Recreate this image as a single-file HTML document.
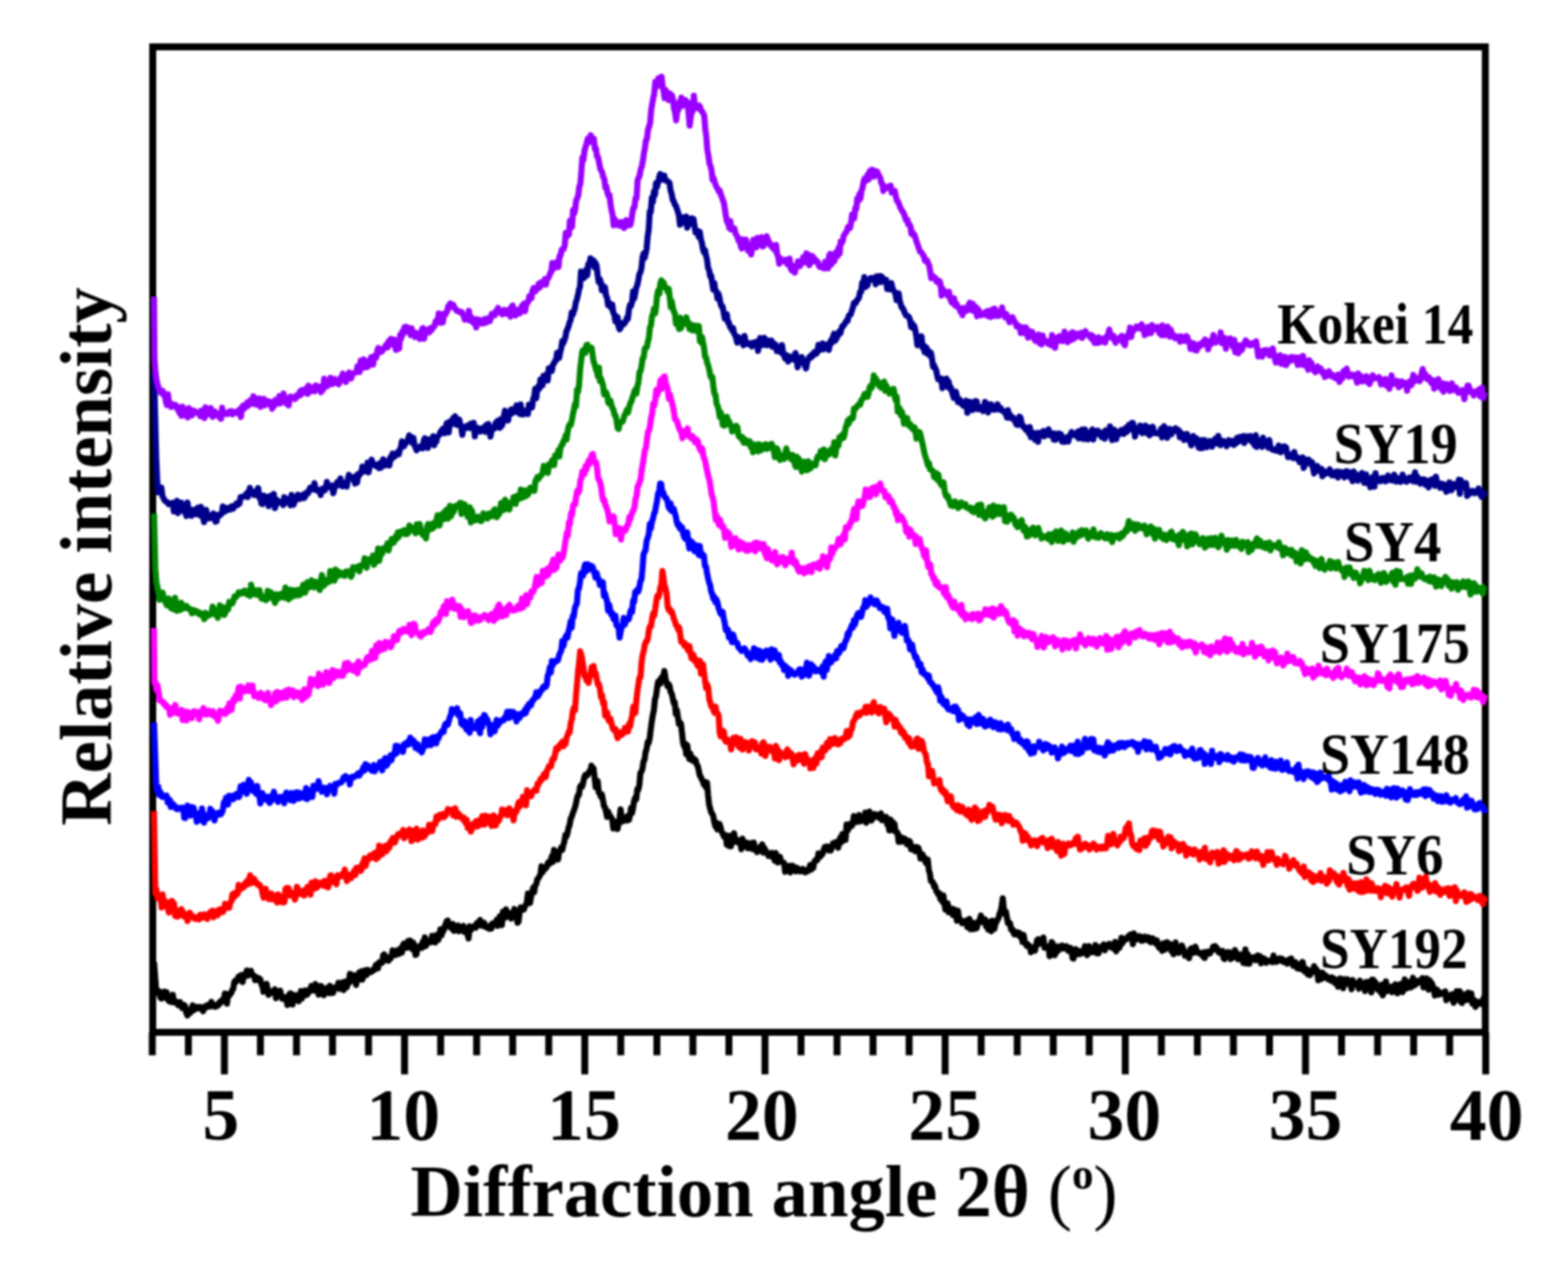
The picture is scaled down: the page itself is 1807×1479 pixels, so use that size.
<!DOCTYPE html>
<html><head><meta charset="utf-8"><style>
html,body{margin:0;padding:0;background:#fff;width:1807px;height:1479px;overflow:hidden}
svg{display:block;filter:blur(0.8px)}
.t{font-family:"Liberation Serif",serif;font-weight:bold;font-size:85px;fill:#000}
.l{font-family:"Liberation Serif",serif;font-weight:bold;font-size:68px;fill:#000}
</style></head><body>
<svg width="1807" height="1479" viewBox="0 0 1807 1479">
<rect x="176" y="54" width="1535.7" height="1136" fill="none" stroke="#000" stroke-width="8"/>
<line x1="175.5" y1="1190" x2="175.5" y2="1216.5" stroke="#000" stroke-width="8"/>
<line x1="217.1" y1="1190" x2="217.1" y2="1216.5" stroke="#000" stroke-width="8"/>
<line x1="258.6" y1="1190" x2="258.6" y2="1238.5" stroke="#000" stroke-width="8"/>
<line x1="300.1" y1="1190" x2="300.1" y2="1216.5" stroke="#000" stroke-width="8"/>
<line x1="341.7" y1="1190" x2="341.7" y2="1216.5" stroke="#000" stroke-width="8"/>
<line x1="383.2" y1="1190" x2="383.2" y2="1216.5" stroke="#000" stroke-width="8"/>
<line x1="424.7" y1="1190" x2="424.7" y2="1216.5" stroke="#000" stroke-width="8"/>
<line x1="466.2" y1="1190" x2="466.2" y2="1238.5" stroke="#000" stroke-width="8"/>
<line x1="507.8" y1="1190" x2="507.8" y2="1216.5" stroke="#000" stroke-width="8"/>
<line x1="549.3" y1="1190" x2="549.3" y2="1216.5" stroke="#000" stroke-width="8"/>
<line x1="590.8" y1="1190" x2="590.8" y2="1216.5" stroke="#000" stroke-width="8"/>
<line x1="632.4" y1="1190" x2="632.4" y2="1216.5" stroke="#000" stroke-width="8"/>
<line x1="673.9" y1="1190" x2="673.9" y2="1238.5" stroke="#000" stroke-width="8"/>
<line x1="715.4" y1="1190" x2="715.4" y2="1216.5" stroke="#000" stroke-width="8"/>
<line x1="757.0" y1="1190" x2="757.0" y2="1216.5" stroke="#000" stroke-width="8"/>
<line x1="798.5" y1="1190" x2="798.5" y2="1216.5" stroke="#000" stroke-width="8"/>
<line x1="840.0" y1="1190" x2="840.0" y2="1216.5" stroke="#000" stroke-width="8"/>
<line x1="881.6" y1="1190" x2="881.6" y2="1238.5" stroke="#000" stroke-width="8"/>
<line x1="923.1" y1="1190" x2="923.1" y2="1216.5" stroke="#000" stroke-width="8"/>
<line x1="964.6" y1="1190" x2="964.6" y2="1216.5" stroke="#000" stroke-width="8"/>
<line x1="1006.1" y1="1190" x2="1006.1" y2="1216.5" stroke="#000" stroke-width="8"/>
<line x1="1047.7" y1="1190" x2="1047.7" y2="1216.5" stroke="#000" stroke-width="8"/>
<line x1="1089.2" y1="1190" x2="1089.2" y2="1238.5" stroke="#000" stroke-width="8"/>
<line x1="1130.7" y1="1190" x2="1130.7" y2="1216.5" stroke="#000" stroke-width="8"/>
<line x1="1172.3" y1="1190" x2="1172.3" y2="1216.5" stroke="#000" stroke-width="8"/>
<line x1="1213.8" y1="1190" x2="1213.8" y2="1216.5" stroke="#000" stroke-width="8"/>
<line x1="1255.3" y1="1190" x2="1255.3" y2="1216.5" stroke="#000" stroke-width="8"/>
<line x1="1296.8" y1="1190" x2="1296.8" y2="1238.5" stroke="#000" stroke-width="8"/>
<line x1="1338.4" y1="1190" x2="1338.4" y2="1216.5" stroke="#000" stroke-width="8"/>
<line x1="1379.9" y1="1190" x2="1379.9" y2="1216.5" stroke="#000" stroke-width="8"/>
<line x1="1421.4" y1="1190" x2="1421.4" y2="1216.5" stroke="#000" stroke-width="8"/>
<line x1="1463.0" y1="1190" x2="1463.0" y2="1216.5" stroke="#000" stroke-width="8"/>
<line x1="1504.5" y1="1190" x2="1504.5" y2="1238.5" stroke="#000" stroke-width="8"/>
<line x1="1546.0" y1="1190" x2="1546.0" y2="1216.5" stroke="#000" stroke-width="8"/>
<line x1="1587.6" y1="1190" x2="1587.6" y2="1216.5" stroke="#000" stroke-width="8"/>
<line x1="1629.1" y1="1190" x2="1629.1" y2="1216.5" stroke="#000" stroke-width="8"/>
<line x1="1670.6" y1="1190" x2="1670.6" y2="1216.5" stroke="#000" stroke-width="8"/>
<line x1="1712.2" y1="1190" x2="1712.2" y2="1238.5" stroke="#000" stroke-width="8"/>
<polyline fill="none" stroke="#000000" stroke-width="7.0" stroke-linejoin="round" points="177.5,1109 180.0,1142.0 181.2,1144.2 182.4,1142.1 183.6,1144.7 184.8,1150.0 186.0,1151.1 187.2,1143.7 188.4,1146.1 189.6,1143.2 190.8,1150.2 192.0,1143.6 193.2,1151.9 194.4,1153.7 195.6,1151.6 196.8,1155.0 198.0,1154.8 199.2,1146.8 200.4,1155.6 201.6,1153.9 202.8,1155.8 204.0,1155.2 205.2,1158.7 206.4,1157.5 207.6,1155.2 208.8,1159.3 210.0,1162.0 211.2,1158.9 212.4,1158.6 213.6,1160.7 214.8,1167.9 216.0,1170.6 217.2,1164.4 218.4,1168.5 219.6,1167.2 220.8,1163.0 222.0,1158.8 223.2,1164.5 224.4,1163.6 225.6,1162.2 226.8,1160.7 228.0,1162.3 229.2,1162.5 230.4,1160.8 231.6,1160.9 232.8,1162.0 234.0,1165.7 235.2,1162.5 236.4,1160.0 237.6,1159.7 238.8,1160.8 240.0,1158.2 241.2,1157.9 242.4,1160.2 243.6,1154.9 244.8,1159.5 246.0,1158.3 247.2,1160.5 248.4,1160.6 249.6,1159.7 250.8,1159.4 252.0,1156.3 253.2,1157.3 254.4,1154.1 255.6,1154.6 256.8,1151.9 258.0,1151.8 259.2,1145.2 260.4,1148.1 261.6,1157.1 262.8,1145.9 264.0,1148.0 265.2,1145.9 266.4,1144.8 267.6,1141.1 268.8,1140.1 270.0,1132.0 271.2,1130.5 272.4,1131.5 273.6,1129.0 274.8,1126.0 276.0,1125.2 277.2,1128.1 278.4,1123.8 279.6,1132.0 280.8,1125.4 282.0,1123.2 283.2,1123.2 284.4,1118.7 285.6,1124.7 286.8,1121.3 288.0,1119.5 289.2,1119.1 290.4,1123.9 291.6,1124.0 292.8,1124.6 294.0,1129.9 295.2,1127.3 296.4,1126.9 297.6,1129.6 298.8,1127.9 300.0,1129.0 301.2,1134.6 302.4,1136.5 303.6,1143.3 304.8,1139.9 306.0,1138.0 307.2,1134.0 308.4,1140.0 309.6,1146.8 310.8,1144.9 312.0,1143.6 313.2,1144.0 314.4,1142.4 315.6,1142.4 316.8,1140.4 318.0,1150.7 319.2,1147.9 320.4,1143.9 321.6,1147.5 322.8,1142.0 324.0,1146.6 325.2,1151.4 326.4,1151.2 327.6,1150.6 328.8,1149.6 330.0,1152.8 331.2,1158.5 332.4,1151.1 333.6,1145.7 334.8,1145.0 336.0,1145.9 337.2,1157.9 338.4,1150.9 339.6,1153.6 340.8,1147.2 342.0,1148.3 343.2,1151.3 344.4,1154.2 345.6,1147.9 346.8,1142.4 348.0,1151.1 349.2,1145.1 350.4,1147.7 351.6,1141.7 352.8,1145.6 354.0,1146.6 355.2,1144.3 356.4,1140.9 357.6,1142.7 358.8,1136.6 360.0,1138.1 361.2,1138.1 362.4,1141.8 363.6,1134.4 364.8,1142.1 366.0,1140.8 367.2,1146.5 368.4,1137.9 369.6,1136.5 370.8,1137.2 372.0,1142.5 373.2,1147.3 374.4,1141.4 375.6,1140.1 376.8,1138.9 378.0,1143.8 379.2,1144.8 380.4,1136.4 381.6,1139.0 382.8,1144.7 384.0,1144.5 385.2,1139.1 386.4,1138.0 387.6,1138.5 388.8,1138.4 390.0,1132.8 391.2,1139.9 392.4,1136.3 393.6,1137.6 394.8,1132.4 396.0,1141.4 397.2,1135.1 398.4,1131.4 399.6,1138.2 400.8,1132.5 402.0,1133.5 403.2,1122.8 404.4,1123.0 405.6,1130.7 406.8,1127.0 408.0,1128.2 409.2,1124.4 410.4,1135.4 411.6,1127.0 412.8,1129.7 414.0,1120.9 415.2,1125.8 416.4,1119.7 417.6,1129.3 418.8,1124.5 420.0,1118.8 421.2,1118.8 422.4,1124.0 423.6,1118.0 424.8,1119.5 426.0,1121.0 427.2,1120.4 428.4,1120.0 429.6,1119.3 430.8,1116.7 432.0,1117.4 433.2,1112.4 434.4,1113.0 435.6,1116.3 436.8,1109.4 438.0,1109.5 439.2,1108.8 440.4,1109.8 441.6,1101.0 442.8,1100.1 444.0,1106.9 445.2,1103.2 446.4,1107.0 447.6,1107.5 448.8,1104.8 450.0,1105.0 451.2,1102.2 452.4,1095.5 453.6,1101.2 454.8,1100.0 456.0,1100.8 457.2,1095.7 458.4,1096.3 459.6,1099.7 460.8,1093.6 462.0,1093.3 463.2,1098.1 464.4,1089.3 465.6,1087.7 466.8,1092.8 468.0,1091.9 469.2,1092.4 470.4,1084.9 471.6,1091.5 472.8,1084.2 474.0,1090.4 475.2,1094.1 476.4,1086.8 477.6,1091.4 478.8,1100.8 480.0,1100.2 481.2,1091.5 482.4,1092.8 483.6,1091.3 484.8,1089.6 486.0,1092.8 487.2,1085.6 488.4,1091.1 489.6,1080.5 490.8,1090.6 492.0,1087.5 493.2,1085.4 494.4,1086.3 495.6,1084.2 496.8,1086.1 498.0,1078.8 499.2,1082.4 500.4,1085.5 501.6,1086.4 502.8,1077.9 504.0,1077.6 505.2,1083.5 506.4,1077.1 507.6,1071.3 508.8,1078.4 510.0,1073.4 511.2,1072.9 512.4,1068.1 513.6,1065.3 514.8,1062.0 516.0,1061.2 517.2,1068.2 518.4,1065.6 519.6,1067.8 520.8,1070.6 522.0,1065.1 523.2,1073.1 524.4,1072.5 525.6,1069.7 526.8,1071.0 528.0,1066.9 529.2,1073.5 530.4,1068.8 531.6,1072.4 532.8,1068.7 534.0,1067.5 535.2,1074.1 536.4,1073.7 537.6,1075.4 538.8,1077.0 540.0,1081.9 541.2,1067.7 542.4,1072.4 543.6,1070.8 544.8,1070.2 546.0,1068.2 547.2,1067.1 548.4,1069.4 549.6,1064.1 550.8,1063.4 552.0,1064.9 553.2,1060.5 554.4,1066.8 555.6,1064.6 556.8,1067.3 558.0,1063.7 559.2,1068.4 560.4,1067.7 561.6,1069.4 562.8,1068.9 564.0,1070.7 565.2,1066.8 566.4,1070.4 567.6,1064.6 568.8,1066.4 570.0,1064.0 571.2,1063.7 572.4,1060.4 573.6,1067.3 574.8,1062.9 576.0,1056.4 577.2,1059.4 578.4,1066.4 579.6,1051.1 580.8,1055.5 582.0,1058.0 583.2,1048.2 584.4,1056.6 585.6,1054.4 586.8,1054.9 588.0,1052.7 589.2,1058.9 590.4,1052.3 591.6,1054.3 592.8,1047.9 594.0,1055.2 595.2,1054.9 596.4,1063.8 597.6,1062.6 598.8,1051.5 600.0,1046.0 601.2,1046.9 602.4,1046.2 603.6,1048.5 604.8,1045.0 606.0,1042.9 607.2,1040.1 608.4,1029.9 609.6,1034.8 610.8,1041.0 612.0,1033.5 613.2,1028.7 614.4,1023.2 615.6,1028.6 616.8,1020.5 618.0,1019.4 619.2,1013.7 620.4,1012.6 621.6,1010.3 622.8,1008.3 624.0,998.6 625.2,1005.8 626.4,1000.1 627.6,1002.2 628.8,1000.7 630.0,999.7 631.2,995.2 632.4,993.6 633.6,995.5 634.8,991.2 636.0,986.9 637.2,993.6 638.4,979.7 639.6,990.7 640.8,983.8 642.0,983.3 643.2,990.9 644.4,981.3 645.6,981.2 646.8,976.7 648.0,979.8 649.2,974.0 650.4,969.9 651.6,962.6 652.8,964.3 654.0,960.4 655.2,954.2 656.4,951.3 657.6,943.9 658.8,941.7 660.0,937.7 661.2,934.7 662.4,931.3 663.6,927.1 664.8,920.8 666.0,916.6 667.2,916.3 668.4,907.1 669.6,905.3 670.8,907.0 672.0,902.7 673.2,896.4 674.4,893.5 675.6,894.5 676.8,893.8 678.0,891.5 679.2,889.0 680.4,888.6 681.6,882.6 682.8,885.0 684.0,885.7 685.2,895.8 686.4,907.3 687.6,901.9 688.8,900.4 690.0,913.6 691.2,914.1 692.4,918.4 693.6,915.8 694.8,922.1 696.0,929.2 697.2,930.6 698.4,935.6 699.6,941.6 700.8,935.5 702.0,939.3 703.2,940.4 704.4,942.9 705.6,944.3 706.8,955.1 708.0,950.0 709.2,947.7 710.4,951.8 711.6,955.7 712.8,950.1 714.0,943.7 715.2,933.0 716.4,943.1 717.6,946.8 718.8,943.7 720.0,942.2 721.2,942.6 722.4,946.0 723.6,940.5 724.8,945.1 726.0,939.9 727.2,931.6 728.4,937.3 729.6,930.9 730.8,923.1 732.0,919.6 733.2,921.3 734.4,909.9 735.6,910.4 736.8,904.9 738.0,891.2 739.2,889.6 740.4,886.2 741.6,877.6 742.8,875.9 744.0,866.7 745.2,863.5 746.4,855.5 747.6,856.4 748.8,850.4 750.0,840.2 751.2,831.2 752.4,824.0 753.6,818.2 754.8,806.2 756.0,802.5 757.2,793.2 758.4,785.9 759.6,784.8 760.8,788.3 762.0,781.3 763.2,781.2 764.4,779.3 765.6,773.5 766.8,780.9 768.0,787.1 769.2,790.8 770.4,788.5 771.6,790.5 772.8,797.6 774.0,799.2 775.2,804.5 776.4,810.4 777.6,809.4 778.8,822.9 780.0,818.5 781.2,826.2 782.4,834.6 783.6,832.7 784.8,834.5 786.0,845.4 787.2,856.3 788.4,860.6 789.6,857.4 790.8,869.3 792.0,859.0 793.2,869.9 794.4,874.9 795.6,868.7 796.8,873.8 798.0,876.8 799.2,874.1 800.4,877.5 801.6,876.3 802.8,881.2 804.0,882.8 805.2,887.8 806.4,893.7 807.6,895.5 808.8,898.7 810.0,900.3 811.2,904.5 812.4,901.3 813.6,907.7 814.8,902.1 816.0,916.3 817.2,927.5 818.4,932.0 819.6,936.6 820.8,938.0 822.0,940.7 823.2,948.0 824.4,952.7 825.6,948.4 826.8,956.1 828.0,951.9 829.2,949.8 830.4,953.7 831.6,958.5 832.8,961.2 834.0,963.7 835.2,965.2 836.4,962.7 837.6,973.6 838.8,964.5 840.0,975.1 841.2,963.5 842.4,975.7 843.6,967.2 844.8,971.0 846.0,960.6 847.2,968.6 848.4,967.2 849.6,970.9 850.8,970.9 852.0,969.9 853.2,972.1 854.4,979.0 855.6,966.7 856.8,972.3 858.0,973.5 859.2,973.6 860.4,971.4 861.6,977.6 862.8,972.1 864.0,977.8 865.2,974.8 866.4,971.9 867.6,978.8 868.8,971.2 870.0,979.5 871.2,978.3 872.4,982.2 873.6,981.5 874.8,978.8 876.0,976.3 877.2,978.9 878.4,973.3 879.6,982.9 880.8,977.5 882.0,980.2 883.2,981.7 884.4,983.8 885.6,986.5 886.8,985.7 888.0,986.9 889.2,983.0 890.4,987.5 891.6,987.0 892.8,992.2 894.0,983.2 895.2,992.8 896.4,994.3 897.6,993.8 898.8,987.6 900.0,993.0 901.2,993.4 902.4,994.3 903.6,994.7 904.8,1005.0 906.0,1000.0 907.2,1002.4 908.4,1000.2 909.6,998.1 910.8,1005.7 912.0,1000.1 913.2,997.8 914.4,1002.6 915.6,999.4 916.8,1004.5 918.0,1003.8 919.2,1000.7 920.4,1002.4 921.6,1004.5 922.8,1004.4 924.0,1003.8 925.2,1001.6 926.4,1003.1 927.6,1005.5 928.8,1003.4 930.0,1004.8 931.2,1004.0 932.4,1001.2 933.6,997.2 934.8,1002.5 936.0,999.8 937.2,1000.4 938.4,993.6 939.6,991.7 940.8,992.2 942.0,991.4 943.2,983.7 944.4,987.7 945.6,987.3 946.8,984.4 948.0,984.4 949.2,979.7 950.4,976.5 951.6,979.2 952.8,975.8 954.0,978.5 955.2,980.4 956.4,976.0 957.6,980.4 958.8,976.0 960.0,972.0 961.2,974.9 962.4,972.4 963.6,970.4 964.8,970.5 966.0,977.2 967.2,970.0 968.4,965.3 969.6,971.1 970.8,961.6 972.0,962.6 973.2,961.2 974.4,968.3 975.6,950.5 976.8,957.7 978.0,955.0 979.2,949.9 980.4,952.3 981.6,952.3 982.8,949.9 984.0,940.7 985.2,946.7 986.4,942.8 987.6,947.5 988.8,944.8 990.0,939.5 991.2,946.9 992.4,945.7 993.6,945.3 994.8,946.0 996.0,944.3 997.2,936.7 998.4,948.5 999.6,941.5 1000.8,940.9 1002.0,935.5 1003.2,943.1 1004.4,945.8 1005.6,940.3 1006.8,942.8 1008.0,938.4 1009.2,939.5 1010.4,939.3 1011.6,940.0 1012.8,942.5 1014.0,941.6 1015.2,937.7 1016.4,945.5 1017.6,943.4 1018.8,945.1 1020.0,944.2 1021.2,941.6 1022.4,950.3 1023.6,950.0 1024.8,957.3 1026.0,944.8 1027.2,956.9 1028.4,947.1 1029.6,953.3 1030.8,949.5 1032.0,958.8 1033.2,958.9 1034.4,959.9 1035.6,970.4 1036.8,964.0 1038.0,970.2 1039.2,970.2 1040.4,966.1 1041.6,969.4 1042.8,966.9 1044.0,969.9 1045.2,973.3 1046.4,973.6 1047.6,969.4 1048.8,970.3 1050.0,979.0 1051.2,979.1 1052.4,979.1 1053.6,976.3 1054.8,981.4 1056.0,980.0 1057.2,976.6 1058.4,977.4 1059.6,981.7 1060.8,989.6 1062.0,984.5 1063.2,984.9 1064.4,990.4 1065.6,988.7 1066.8,994.5 1068.0,995.5 1069.2,991.0 1070.4,1003.0 1071.6,1006.9 1072.8,1015.7 1074.0,1016.3 1075.2,1017.0 1076.4,1021.8 1077.6,1021.2 1078.8,1026.6 1080.0,1028.6 1081.2,1031.1 1082.4,1029.6 1083.6,1036.3 1084.8,1036.4 1086.0,1039.5 1087.2,1032.2 1088.4,1042.3 1089.6,1048.5 1090.8,1043.9 1092.0,1041.3 1093.2,1051.6 1094.4,1047.8 1095.6,1047.1 1096.8,1050.7 1098.0,1054.7 1099.2,1048.0 1100.4,1053.9 1101.6,1055.7 1102.8,1061.4 1104.0,1049.8 1105.2,1058.0 1106.4,1060.6 1107.6,1060.8 1108.8,1064.3 1110.0,1062.6 1111.2,1063.3 1112.4,1064.1 1113.6,1061.2 1114.8,1068.8 1116.0,1066.3 1117.2,1059.2 1118.4,1071.1 1119.6,1070.5 1120.8,1071.1 1122.0,1063.9 1123.2,1070.8 1124.4,1067.2 1125.6,1070.1 1126.8,1063.0 1128.0,1064.2 1129.2,1059.8 1130.4,1055.3 1131.6,1061.0 1132.8,1062.7 1134.0,1060.2 1135.2,1059.9 1136.4,1067.9 1137.6,1064.5 1138.8,1071.5 1140.0,1062.9 1141.2,1062.3 1142.4,1073.5 1143.6,1061.2 1144.8,1068.1 1146.0,1070.9 1147.2,1064.9 1148.4,1062.6 1149.6,1060.0 1150.8,1058.2 1152.0,1052.8 1153.2,1050.7 1154.4,1044.4 1155.6,1035.4 1156.8,1047.2 1158.0,1053.7 1159.2,1050.7 1160.4,1058.0 1161.6,1064.2 1162.8,1063.2 1164.0,1064.4 1165.2,1071.4 1166.4,1070.9 1167.6,1074.1 1168.8,1077.0 1170.0,1073.9 1171.2,1077.2 1172.4,1074.6 1173.6,1077.9 1174.8,1075.5 1176.0,1080.4 1177.2,1077.3 1178.4,1086.0 1179.6,1077.7 1180.8,1084.2 1182.0,1088.1 1183.2,1090.3 1184.4,1088.5 1185.6,1090.6 1186.8,1090.8 1188.0,1097.7 1189.2,1096.4 1190.4,1093.2 1191.6,1091.9 1192.8,1095.9 1194.0,1089.9 1195.2,1083.6 1196.4,1082.8 1197.6,1088.1 1198.8,1085.2 1200.0,1086.6 1201.2,1087.1 1202.4,1080.7 1203.6,1092.5 1204.8,1090.3 1206.0,1092.0 1207.2,1093.1 1208.4,1090.9 1209.6,1102.2 1210.8,1101.5 1212.0,1086.1 1213.2,1087.5 1214.4,1092.7 1215.6,1101.1 1216.8,1092.6 1218.0,1097.7 1219.2,1091.0 1220.4,1091.7 1221.6,1094.4 1222.8,1092.1 1224.0,1090.0 1225.2,1091.7 1226.4,1093.2 1227.6,1092.3 1228.8,1090.8 1230.0,1091.7 1231.2,1096.3 1232.4,1092.5 1233.6,1092.7 1234.8,1094.4 1236.0,1104.5 1237.2,1105.0 1238.4,1096.6 1239.6,1094.1 1240.8,1095.8 1242.0,1099.9 1243.2,1096.0 1244.4,1099.8 1245.6,1099.0 1246.8,1097.4 1248.0,1098.5 1249.2,1094.1 1250.4,1090.7 1251.6,1095.8 1252.8,1101.1 1254.0,1094.0 1255.2,1090.7 1256.4,1098.0 1257.6,1097.6 1258.8,1097.4 1260.0,1093.0 1261.2,1097.6 1262.4,1089.4 1263.6,1091.8 1264.8,1099.1 1266.0,1099.0 1267.2,1093.6 1268.4,1091.5 1269.6,1091.8 1270.8,1090.3 1272.0,1088.7 1273.2,1095.5 1274.4,1091.5 1275.6,1090.1 1276.8,1089.8 1278.0,1088.0 1279.2,1088.2 1280.4,1092.2 1281.6,1089.4 1282.8,1089.5 1284.0,1093.9 1285.2,1085.7 1286.4,1096.7 1287.6,1089.5 1288.8,1092.8 1290.0,1092.6 1291.2,1089.7 1292.4,1080.9 1293.6,1087.2 1294.8,1084.7 1296.0,1082.5 1297.2,1082.8 1298.4,1082.7 1299.6,1079.7 1300.8,1079.5 1302.0,1077.8 1303.2,1077.1 1304.4,1081.1 1305.6,1088.4 1306.8,1075.9 1308.0,1081.7 1309.2,1081.3 1310.4,1082.7 1311.6,1079.6 1312.8,1079.1 1314.0,1079.5 1315.2,1084.3 1316.4,1084.6 1317.6,1084.1 1318.8,1079.7 1320.0,1080.7 1321.2,1080.3 1322.4,1083.6 1323.6,1080.6 1324.8,1085.1 1326.0,1086.2 1327.2,1084.4 1328.4,1081.7 1329.6,1083.3 1330.8,1086.1 1332.0,1087.9 1333.2,1084.0 1334.4,1088.1 1335.6,1092.4 1336.8,1089.8 1338.0,1092.8 1339.2,1096.1 1340.4,1087.8 1341.6,1087.3 1342.8,1094.6 1344.0,1089.6 1345.2,1086.2 1346.4,1091.6 1347.6,1090.9 1348.8,1088.5 1350.0,1096.5 1351.2,1091.6 1352.4,1100.0 1353.6,1090.6 1354.8,1086.4 1356.0,1097.5 1357.2,1091.5 1358.4,1098.5 1359.6,1093.3 1360.8,1095.0 1362.0,1089.9 1363.2,1092.6 1364.4,1096.0 1365.6,1101.7 1366.8,1098.3 1368.0,1100.5 1369.2,1098.4 1370.4,1104.5 1371.6,1094.8 1372.8,1093.3 1374.0,1095.5 1375.2,1098.5 1376.4,1097.5 1377.6,1091.2 1378.8,1095.1 1380.0,1097.8 1381.2,1098.6 1382.4,1098.3 1383.6,1099.7 1384.8,1100.1 1386.0,1102.2 1387.2,1097.8 1388.4,1104.3 1389.6,1097.4 1390.8,1097.4 1392.0,1097.1 1393.2,1099.5 1394.4,1099.0 1395.6,1096.4 1396.8,1095.6 1398.0,1091.3 1399.2,1094.3 1400.4,1090.6 1401.6,1094.5 1402.8,1093.2 1404.0,1097.2 1405.2,1098.3 1406.4,1096.6 1407.6,1096.8 1408.8,1096.1 1410.0,1104.5 1411.2,1105.6 1412.4,1098.8 1413.6,1101.5 1414.8,1097.6 1416.0,1099.2 1417.2,1098.0 1418.4,1105.6 1419.6,1100.0 1420.8,1104.0 1422.0,1100.6 1423.2,1095.1 1424.4,1098.9 1425.6,1101.1 1426.8,1105.8 1428.0,1102.1 1429.2,1100.3 1430.4,1102.6 1431.6,1102.6 1432.8,1110.0 1434.0,1102.9 1435.2,1094.5 1436.4,1110.7 1437.6,1099.4 1438.8,1102.2 1440.0,1110.9 1441.2,1104.8 1442.4,1105.2 1443.6,1103.7 1444.8,1103.7 1446.0,1103.2 1447.2,1106.9 1448.4,1104.2 1449.6,1101.4 1450.8,1103.0 1452.0,1102.3 1453.2,1110.5 1454.4,1104.5 1455.6,1104.4 1456.8,1107.8 1458.0,1105.6 1459.2,1109.9 1460.4,1108.8 1461.6,1108.3 1462.8,1107.7 1464.0,1107.0 1465.2,1107.4 1466.4,1109.2 1467.6,1101.5 1468.8,1105.3 1470.0,1108.8 1471.2,1108.9 1472.4,1107.7 1473.6,1105.3 1474.8,1104.8 1476.0,1107.2 1477.2,1105.1 1478.4,1108.7 1479.6,1108.9 1480.8,1108.3 1482.0,1107.5 1483.2,1110.9 1484.4,1107.2 1485.6,1106.1 1486.8,1106.5 1488.0,1104.9 1489.2,1111.0 1490.4,1113.2 1491.6,1112.6 1492.8,1109.0 1494.0,1115.1 1495.2,1116.3 1496.4,1114.4 1497.6,1116.4 1498.8,1111.1 1500.0,1117.3 1501.2,1108.9 1502.4,1116.1 1503.6,1120.1 1504.8,1118.5 1506.0,1117.1 1507.2,1123.1 1508.4,1119.2 1509.6,1124.2 1510.8,1118.8 1512.0,1120.2 1513.2,1120.6 1514.4,1113.7 1515.6,1117.0 1516.8,1117.2 1518.0,1119.1 1519.2,1130.1 1520.4,1123.7 1521.6,1124.7 1522.8,1128.7 1524.0,1121.1 1525.2,1126.5 1526.4,1125.0 1527.6,1124.4 1528.8,1127.5 1530.0,1128.5 1531.2,1126.9 1532.4,1128.0 1533.6,1130.4 1534.8,1126.5 1536.0,1130.9 1537.2,1128.0 1538.4,1133.5 1539.6,1130.4 1540.8,1129.9 1542.0,1137.5 1543.2,1130.0 1544.4,1127.9 1545.6,1130.8 1546.8,1130.1 1548.0,1139.2 1549.2,1128.8 1550.4,1132.8 1551.6,1132.7 1552.8,1128.8 1554.0,1134.4 1555.2,1133.7 1556.4,1133.1 1557.6,1140.4 1558.8,1129.7 1560.0,1135.1 1561.2,1132.9 1562.4,1134.7 1563.6,1134.1 1564.8,1136.5 1566.0,1139.8 1567.2,1130.4 1568.4,1135.6 1569.6,1137.7 1570.8,1134.5 1572.0,1135.0 1573.2,1142.5 1574.4,1132.1 1575.6,1137.0 1576.8,1138.1 1578.0,1137.8 1579.2,1131.1 1580.4,1144.0 1581.6,1129.2 1582.8,1129.6 1584.0,1138.0 1585.2,1132.5 1586.4,1136.9 1587.6,1140.8 1588.8,1138.9 1590.0,1139.3 1591.2,1144.1 1592.4,1134.9 1593.6,1147.5 1594.8,1140.6 1596.0,1140.7 1597.2,1131.2 1598.4,1142.8 1599.6,1138.0 1600.8,1137.8 1602.0,1139.1 1603.2,1137.4 1604.4,1143.8 1605.6,1142.6 1606.8,1136.5 1608.0,1134.8 1609.2,1136.4 1610.4,1145.0 1611.6,1135.6 1612.8,1137.0 1614.0,1134.4 1615.2,1136.9 1616.4,1143.7 1617.6,1136.4 1618.8,1129.0 1620.0,1137.8 1621.2,1139.4 1622.4,1135.9 1623.6,1132.1 1624.8,1135.3 1626.0,1138.3 1627.2,1135.3 1628.4,1127.1 1629.6,1136.2 1630.8,1132.6 1632.0,1134.3 1633.2,1133.2 1634.4,1130.6 1635.6,1132.3 1636.8,1130.6 1638.0,1131.9 1639.2,1127.5 1640.4,1138.2 1641.6,1132.6 1642.8,1130.5 1644.0,1128.0 1645.2,1138.0 1646.4,1140.8 1647.6,1130.1 1648.8,1133.7 1650.0,1133.3 1651.2,1136.4 1652.4,1141.2 1653.6,1147.6 1654.8,1140.6 1656.0,1140.8 1657.2,1144.0 1658.4,1146.6 1659.6,1143.9 1660.8,1144.6 1662.0,1144.9 1663.2,1146.0 1664.4,1146.5 1665.6,1142.9 1666.8,1153.1 1668.0,1147.7 1669.2,1149.1 1670.4,1147.7 1671.6,1150.6 1672.8,1146.2 1674.0,1152.1 1675.2,1156.0 1676.4,1145.4 1677.6,1149.0 1678.8,1142.6 1680.0,1152.2 1681.2,1150.3 1682.4,1142.6 1683.6,1155.4 1684.8,1156.2 1686.0,1149.5 1687.2,1153.2 1688.4,1146.2 1689.6,1152.9 1690.8,1150.8 1692.0,1144.3 1693.2,1151.0 1694.4,1152.7 1695.6,1145.1 1696.8,1156.8 1698.0,1152.4 1699.2,1153.1 1700.4,1160.8 1701.6,1158.8 1702.8,1155.0 1704.0,1155.2 1705.2,1156.8 1706.4,1154.6 1707.6,1154.5 1708.8,1157.7 1710.0,1150.1 1711.2,1162.0"/>
<polyline fill="none" stroke="#ff0000" stroke-width="7.0" stroke-linejoin="round" points="177.5,935 179.0,1029.7 180.2,1025.0 181.4,1035.5 182.6,1031.8 183.8,1034.4 185.0,1033.3 186.2,1046.1 187.4,1031.0 188.6,1037.9 189.8,1040.2 191.0,1043.8 192.2,1039.7 193.4,1046.8 194.6,1052.0 195.8,1041.6 197.0,1046.3 198.2,1038.5 199.4,1046.6 200.6,1041.3 201.8,1055.8 203.0,1049.2 204.2,1056.8 205.4,1053.5 206.6,1055.6 207.8,1049.6 209.0,1048.0 210.2,1054.8 211.4,1051.5 212.6,1056.7 213.8,1054.6 215.0,1055.7 216.2,1061.7 217.4,1056.2 218.6,1052.1 219.8,1053.5 221.0,1057.3 222.2,1057.5 223.4,1058.6 224.6,1057.3 225.8,1059.3 227.0,1057.8 228.2,1058.9 229.4,1059.9 230.6,1054.5 231.8,1056.2 233.0,1056.7 234.2,1057.7 235.4,1054.1 236.6,1056.0 237.8,1056.1 239.0,1059.4 240.2,1053.7 241.4,1055.1 242.6,1051.0 243.8,1053.2 245.0,1049.9 246.2,1057.4 247.4,1051.3 248.6,1054.3 249.8,1050.2 251.0,1055.0 252.2,1049.2 253.4,1048.1 254.6,1049.2 255.8,1051.6 257.0,1051.4 258.2,1047.9 259.4,1041.8 260.6,1046.9 261.8,1043.3 263.0,1045.4 264.2,1046.3 265.4,1040.3 266.6,1039.2 267.8,1031.1 269.0,1035.4 270.2,1029.6 271.4,1032.5 272.6,1029.2 273.8,1030.6 275.0,1020.1 276.2,1020.9 277.4,1025.1 278.6,1022.5 279.8,1021.5 281.0,1022.9 282.2,1018.2 283.4,1019.6 284.6,1015.5 285.8,1019.5 287.0,1013.8 288.2,1009.0 289.4,1012.4 290.6,1017.9 291.8,1014.1 293.0,1013.2 294.2,1016.7 295.4,1017.0 296.6,1019.7 297.8,1019.8 299.0,1019.7 300.2,1022.3 301.4,1023.7 302.6,1030.2 303.8,1034.9 305.0,1029.0 306.2,1024.5 307.4,1032.7 308.6,1033.5 309.8,1036.5 311.0,1033.9 312.2,1029.9 313.4,1036.4 314.6,1031.4 315.8,1037.1 317.0,1037.3 318.2,1033.9 319.4,1040.3 320.6,1030.9 321.8,1039.7 323.0,1033.0 324.2,1035.1 325.4,1034.6 326.6,1040.4 327.8,1040.1 329.0,1024.7 330.2,1023.7 331.4,1031.8 332.6,1023.8 333.8,1032.4 335.0,1031.4 336.2,1032.1 337.4,1030.5 338.6,1029.0 339.8,1037.1 341.0,1032.1 342.2,1022.3 343.4,1025.6 344.6,1030.8 345.8,1027.8 347.0,1028.1 348.2,1030.5 349.4,1026.6 350.6,1032.4 351.8,1028.0 353.0,1026.1 354.2,1022.3 355.4,1024.0 356.6,1026.1 357.8,1031.4 359.0,1017.4 360.2,1018.5 361.4,1023.6 362.6,1024.4 363.8,1015.9 365.0,1023.3 366.2,1022.2 367.4,1020.7 368.6,1017.8 369.8,1018.1 371.0,1017.1 372.2,1020.7 373.4,1015.8 374.6,1015.3 375.8,1021.8 377.0,1020.8 378.2,1022.9 379.4,1017.3 380.6,1009.2 381.8,1009.0 383.0,1013.9 384.2,1016.8 385.4,1017.2 386.6,1013.7 387.8,1019.4 389.0,1008.9 390.2,1009.7 391.4,1010.5 392.6,1009.5 393.8,1009.8 395.0,1006.8 396.2,1009.8 397.4,1002.4 398.6,1010.3 399.8,1015.8 401.0,1008.5 402.2,1009.0 403.4,1008.2 404.6,1012.5 405.8,1007.9 407.0,1008.4 408.2,1003.6 409.4,1008.8 410.6,1000.5 411.8,1002.0 413.0,1003.8 414.2,999.8 415.4,1004.1 416.6,1002.5 417.8,994.7 419.0,994.6 420.2,989.3 421.4,998.2 422.6,992.5 423.8,991.8 425.0,989.7 426.2,986.4 427.4,989.1 428.6,986.1 429.8,987.6 431.0,983.6 432.2,985.1 433.4,990.4 434.6,982.1 435.8,988.6 437.0,974.7 438.2,980.0 439.4,979.3 440.6,984.9 441.8,981.9 443.0,975.5 444.2,976.5 445.4,981.3 446.6,974.1 447.8,977.9 449.0,976.5 450.2,969.8 451.4,970.4 452.6,965.9 453.8,967.8 455.0,971.3 456.2,967.5 457.4,964.8 458.6,961.9 459.8,963.1 461.0,960.9 462.2,962.3 463.4,963.3 464.6,956.7 465.8,966.4 467.0,962.2 468.2,962.8 469.4,962.9 470.6,957.8 471.8,956.1 473.0,957.9 474.2,969.6 475.4,957.5 476.6,961.8 477.8,966.5 479.0,963.5 480.2,955.3 481.4,967.9 482.6,963.3 483.8,961.3 485.0,963.6 486.2,965.7 487.4,957.2 488.6,964.5 489.8,963.3 491.0,959.4 492.2,960.2 493.4,957.0 494.6,950.7 495.8,958.2 497.0,956.2 498.2,957.9 499.4,950.1 500.6,950.4 501.8,950.0 503.0,941.3 504.2,944.1 505.4,944.4 506.6,939.2 507.8,939.4 509.0,940.1 510.2,938.4 511.4,942.2 512.6,941.1 513.8,940.0 515.0,935.7 516.2,932.7 517.4,935.7 518.6,933.6 519.8,933.4 521.0,933.7 522.2,939.7 523.4,937.4 524.6,931.7 525.8,941.5 527.0,938.9 528.2,937.4 529.4,941.4 530.6,940.5 531.8,942.5 533.0,944.4 534.2,942.3 535.4,946.5 536.6,948.8 537.8,944.8 539.0,954.4 540.2,951.6 541.4,952.3 542.6,958.6 543.8,955.6 545.0,949.9 546.2,950.7 547.4,951.4 548.6,946.6 549.8,952.9 551.0,948.9 552.2,945.7 553.4,951.0 554.6,949.3 555.8,940.9 557.0,949.0 558.2,950.5 559.4,940.2 560.6,948.8 561.8,945.5 563.0,946.8 564.2,941.4 565.4,946.7 566.6,952.2 567.8,944.6 569.0,939.8 570.2,948.7 571.4,951.5 572.6,943.8 573.8,947.2 575.0,945.7 576.2,941.1 577.4,940.9 578.6,933.1 579.8,938.1 581.0,934.7 582.2,934.0 583.4,936.4 584.6,939.9 585.8,936.4 587.0,931.9 588.2,936.0 589.4,936.4 590.6,939.8 591.8,945.6 593.0,937.7 594.2,933.8 595.4,935.4 596.6,928.8 597.8,924.6 599.0,929.9 600.2,926.3 601.4,925.2 602.6,918.6 603.8,922.6 605.0,922.2 606.2,928.3 607.4,911.1 608.6,918.0 609.8,916.6 611.0,916.2 612.2,917.7 613.4,912.9 614.6,912.2 615.8,910.5 617.0,911.3 618.2,911.5 619.4,903.5 620.6,904.4 621.8,901.7 623.0,897.8 624.2,899.2 625.4,896.1 626.6,892.9 627.8,891.6 629.0,895.8 630.2,888.5 631.4,886.7 632.6,883.2 633.8,884.2 635.0,883.6 636.2,876.3 637.4,874.3 638.6,874.6 639.8,869.0 641.0,862.6 642.2,863.3 643.4,863.5 644.6,859.3 645.8,858.1 647.0,857.0 648.2,854.9 649.4,860.4 650.6,854.5 651.8,857.6 653.0,849.8 654.2,847.5 655.4,843.3 656.6,843.8 657.8,833.1 659.0,829.4 660.2,819.1 661.4,815.8 662.6,819.0 663.8,801.9 665.0,788.3 666.2,773.8 667.4,764.0 668.6,750.8 669.8,754.3 671.0,760.9 672.2,768.7 673.4,778.8 674.6,778.6 675.8,784.2 677.0,785.3 678.2,787.2 679.4,781.2 680.6,775.7 681.8,769.0 683.0,769.5 684.2,767.8 685.4,778.0 686.6,776.0 687.8,783.3 689.0,788.9 690.2,788.7 691.4,793.7 692.6,803.5 693.8,801.3 695.0,810.9 696.2,809.5 697.4,825.0 698.6,823.7 699.8,821.4 701.0,829.8 702.2,831.5 703.4,828.2 704.6,833.2 705.8,838.3 707.0,841.2 708.2,841.0 709.4,840.6 710.6,846.8 711.8,851.0 713.0,848.0 714.2,844.3 715.4,844.5 716.6,847.0 717.8,843.7 719.0,845.1 720.2,839.0 721.4,842.3 722.6,842.6 723.8,843.2 725.0,834.3 726.2,837.4 727.4,829.7 728.6,824.4 729.8,814.7 731.0,820.5 732.2,821.7 733.4,807.1 734.6,796.6 735.8,788.3 737.0,780.9 738.2,780.4 739.4,763.4 740.6,754.9 741.8,750.8 743.0,743.8 744.2,739.8 745.4,739.3 746.6,736.1 747.8,726.1 749.0,722.0 750.2,722.0 751.4,714.1 752.6,707.4 753.8,709.8 755.0,702.6 756.2,693.9 757.4,687.1 758.6,688.6 759.8,685.3 761.0,677.1 762.2,673.7 763.4,658.2 764.6,666.2 765.8,675.4 767.0,678.4 768.2,684.0 769.4,698.8 770.6,702.9 771.8,701.9 773.0,705.6 774.2,705.2 775.4,708.5 776.6,713.3 777.8,716.3 779.0,720.9 780.2,721.0 781.4,725.5 782.6,723.2 783.8,730.6 785.0,739.9 786.2,739.8 787.4,739.9 788.6,744.3 789.8,742.1 791.0,743.5 792.2,748.1 793.4,750.1 794.6,744.9 795.8,753.5 797.0,759.0 798.2,754.1 799.4,755.4 800.6,761.9 801.8,760.0 803.0,764.9 804.2,768.0 805.4,768.1 806.6,761.6 807.8,776.5 809.0,770.4 810.2,765.8 811.4,776.2 812.6,785.4 813.8,793.2 815.0,789.2 816.2,792.8 817.4,806.6 818.6,809.8 819.8,814.6 821.0,815.0 822.2,818.8 823.4,821.5 824.6,814.5 825.8,822.1 827.0,822.2 828.2,825.1 829.4,845.0 830.6,849.0 831.8,844.5 833.0,842.2 834.2,843.4 835.4,853.4 836.6,855.0 837.8,851.9 839.0,854.5 840.2,854.9 841.4,857.2 842.6,863.9 843.8,855.5 845.0,850.6 846.2,850.7 847.4,857.0 848.6,849.9 849.8,851.6 851.0,860.1 852.2,861.9 853.4,851.8 854.6,853.7 855.8,864.0 857.0,861.2 858.2,856.8 859.4,855.8 860.6,858.7 861.8,856.7 863.0,865.2 864.2,859.8 865.4,859.0 866.6,854.3 867.8,860.6 869.0,855.3 870.2,856.4 871.4,863.9 872.6,861.2 873.8,861.6 875.0,863.1 876.2,865.4 877.4,868.7 878.6,856.9 879.8,855.8 881.0,858.0 882.2,871.5 883.4,864.0 884.6,863.3 885.8,865.1 887.0,860.7 888.2,864.3 889.4,863.8 890.6,866.8 891.8,862.6 893.0,874.3 894.2,859.7 895.4,862.8 896.6,864.6 897.8,876.2 899.0,866.8 900.2,870.4 901.4,870.8 902.6,869.3 903.8,869.1 905.0,872.9 906.2,866.4 907.4,864.0 908.6,871.8 909.8,871.7 911.0,867.8 912.2,868.9 913.4,874.2 914.6,881.2 915.8,876.1 917.0,872.0 918.2,874.2 919.4,876.6 920.6,870.3 921.8,873.2 923.0,870.5 924.2,876.1 925.4,876.8 926.6,880.4 927.8,869.2 929.0,873.6 930.2,875.8 931.4,877.2 932.6,876.6 933.8,885.8 935.0,876.7 936.2,882.2 937.4,885.2 938.6,875.5 939.8,873.5 941.0,880.1 942.2,868.5 943.4,872.4 944.6,873.4 945.8,866.4 947.0,873.0 948.2,861.8 949.4,865.7 950.6,865.4 951.8,863.9 953.0,856.4 954.2,860.1 955.4,860.9 956.6,852.1 957.8,858.1 959.0,856.9 960.2,851.8 961.4,857.2 962.6,850.9 963.8,857.0 965.0,855.1 966.2,858.2 967.4,853.7 968.6,856.6 969.8,851.6 971.0,851.7 972.2,851.9 973.4,851.9 974.6,848.5 975.8,842.7 977.0,850.0 978.2,848.6 979.4,847.6 980.6,841.3 981.8,840.3 983.0,831.9 984.2,830.7 985.4,828.2 986.6,824.7 987.8,822.1 989.0,823.6 990.2,825.1 991.4,821.4 992.6,822.4 993.8,820.5 995.0,821.0 996.2,819.7 997.4,814.9 998.6,821.7 999.8,814.6 1001.0,815.5 1002.2,816.9 1003.4,817.5 1004.6,821.3 1005.8,811.9 1007.0,809.4 1008.2,817.6 1009.4,818.1 1010.6,820.2 1011.8,816.4 1013.0,822.4 1014.2,815.0 1015.4,817.8 1016.6,819.5 1017.8,818.3 1019.0,816.9 1020.2,825.3 1021.4,832.8 1022.6,824.8 1023.8,822.4 1025.0,824.8 1026.2,824.8 1027.4,828.9 1028.6,828.6 1029.8,829.0 1031.0,837.6 1032.2,829.9 1033.4,834.3 1034.6,834.7 1035.8,839.1 1037.0,838.3 1038.2,844.2 1039.4,841.4 1040.6,846.4 1041.8,844.2 1043.0,850.4 1044.2,850.1 1045.4,849.6 1046.6,855.3 1047.8,851.0 1049.0,858.3 1050.2,860.6 1051.4,858.9 1052.6,858.5 1053.8,860.0 1055.0,857.9 1056.2,851.7 1057.4,851.3 1058.6,863.2 1059.8,855.8 1061.0,856.6 1062.2,854.2 1063.4,857.2 1064.6,865.1 1065.8,868.0 1067.0,870.4 1068.2,879.3 1069.4,880.4 1070.6,894.9 1071.8,892.6 1073.0,892.5 1074.2,888.5 1075.4,896.0 1076.6,903.1 1077.8,901.3 1079.0,901.5 1080.2,903.0 1081.4,902.5 1082.6,899.1 1083.8,908.9 1085.0,911.4 1086.2,909.4 1087.4,914.1 1088.6,914.8 1089.8,913.0 1091.0,919.1 1092.2,923.7 1093.4,923.1 1094.6,923.5 1095.8,917.9 1097.0,925.8 1098.2,929.4 1099.4,930.9 1100.6,929.2 1101.8,928.7 1103.0,934.3 1104.2,928.1 1105.4,933.3 1106.6,935.4 1107.8,935.5 1109.0,930.1 1110.2,934.7 1111.4,935.0 1112.6,938.1 1113.8,935.6 1115.0,940.2 1116.2,933.3 1117.4,937.7 1118.6,942.5 1119.8,945.1 1121.0,937.2 1122.2,936.1 1123.4,930.7 1124.6,940.2 1125.8,933.3 1127.0,946.4 1128.2,936.6 1129.4,945.1 1130.6,939.1 1131.8,936.5 1133.0,935.5 1134.2,937.6 1135.4,941.6 1136.6,933.9 1137.8,936.3 1139.0,934.6 1140.2,927.8 1141.4,929.2 1142.6,929.4 1143.8,930.1 1145.0,936.1 1146.2,940.6 1147.4,944.8 1148.6,938.7 1149.8,942.1 1151.0,944.7 1152.2,939.2 1153.4,942.5 1154.6,949.0 1155.8,943.4 1157.0,944.8 1158.2,939.3 1159.4,943.0 1160.6,942.8 1161.8,946.3 1163.0,940.5 1164.2,946.5 1165.4,944.8 1166.6,945.7 1167.8,950.6 1169.0,948.4 1170.2,948.4 1171.4,948.3 1172.6,951.2 1173.8,951.7 1175.0,953.9 1176.2,958.6 1177.4,958.7 1178.6,969.2 1179.8,959.6 1181.0,964.1 1182.2,961.5 1183.4,967.9 1184.6,964.7 1185.8,969.6 1187.0,970.3 1188.2,974.7 1189.4,969.5 1190.6,968.9 1191.8,968.7 1193.0,973.1 1194.2,969.1 1195.4,975.4 1196.6,971.1 1197.8,969.6 1199.0,967.4 1200.2,968.0 1201.4,965.9 1202.6,971.4 1203.8,970.4 1205.0,971.3 1206.2,969.9 1207.4,977.8 1208.6,968.4 1209.8,971.1 1211.0,972.9 1212.2,966.9 1213.4,976.3 1214.6,973.8 1215.8,974.0 1217.0,977.7 1218.2,981.1 1219.4,970.5 1220.6,979.3 1221.8,978.7 1223.0,986.4 1224.2,976.9 1225.4,972.7 1226.6,984.6 1227.8,975.8 1229.0,975.3 1230.2,975.0 1231.4,972.3 1232.6,974.6 1233.8,974.6 1235.0,973.1 1236.2,972.3 1237.4,970.9 1238.6,972.7 1239.8,966.4 1241.0,971.3 1242.2,964.5 1243.4,973.3 1244.6,979.2 1245.8,979.1 1247.0,975.3 1248.2,974.2 1249.4,976.6 1250.6,972.5 1251.8,973.4 1253.0,974.1 1254.2,975.0 1255.4,979.4 1256.6,977.9 1257.8,975.4 1259.0,975.4 1260.2,972.4 1261.4,974.4 1262.6,976.6 1263.8,979.4 1265.0,976.0 1266.2,976.9 1267.4,977.8 1268.6,976.4 1269.8,978.3 1271.0,975.9 1272.2,977.8 1273.4,977.3 1274.6,977.9 1275.8,974.2 1277.0,963.6 1278.2,971.3 1279.4,965.7 1280.6,973.4 1281.8,969.0 1283.0,961.2 1284.2,968.2 1285.4,972.0 1286.6,971.9 1287.8,974.6 1289.0,970.0 1290.2,970.8 1291.4,964.6 1292.6,967.8 1293.8,964.9 1295.0,966.2 1296.2,961.0 1297.4,954.3 1298.6,954.1 1299.8,951.4 1301.0,949.1 1302.2,961.3 1303.4,961.7 1304.6,971.5 1305.8,975.0 1307.0,975.7 1308.2,974.6 1309.4,978.3 1310.6,974.4 1311.8,975.7 1313.0,980.0 1314.2,969.1 1315.4,969.5 1316.6,971.8 1317.8,967.4 1319.0,966.2 1320.2,975.3 1321.4,972.8 1322.6,971.9 1323.8,965.4 1325.0,966.8 1326.2,966.0 1327.4,958.1 1328.6,957.3 1329.8,961.0 1331.0,963.4 1332.2,961.5 1333.4,958.2 1334.6,965.0 1335.8,968.2 1337.0,958.7 1338.2,967.6 1339.4,966.4 1340.6,975.9 1341.8,970.2 1343.0,973.0 1344.2,971.6 1345.4,970.7 1346.6,964.5 1347.8,970.3 1349.0,965.2 1350.2,977.9 1351.4,972.9 1352.6,969.8 1353.8,971.3 1355.0,972.6 1356.2,975.1 1357.4,973.0 1358.6,981.2 1359.8,973.9 1361.0,979.7 1362.2,976.8 1363.4,972.8 1364.6,976.4 1365.8,976.5 1367.0,986.4 1368.2,978.4 1369.4,980.2 1370.6,978.8 1371.8,983.5 1373.0,980.5 1374.2,981.1 1375.4,985.1 1376.6,979.3 1377.8,981.5 1379.0,983.7 1380.2,983.5 1381.4,984.4 1382.6,990.9 1383.8,982.0 1385.0,982.7 1386.2,987.9 1387.4,984.8 1388.6,977.3 1389.8,990.2 1391.0,990.3 1392.2,985.5 1393.4,985.7 1394.6,994.1 1395.8,985.5 1397.0,982.8 1398.2,988.1 1399.4,985.2 1400.6,984.1 1401.8,988.5 1403.0,982.0 1404.2,995.5 1405.4,985.4 1406.6,986.8 1407.8,993.6 1409.0,988.7 1410.2,980.1 1411.4,993.5 1412.6,986.8 1413.8,984.2 1415.0,985.6 1416.2,987.7 1417.4,989.2 1418.6,987.1 1419.8,986.5 1421.0,988.4 1422.2,991.7 1423.4,985.8 1424.6,981.0 1425.8,981.8 1427.0,990.9 1428.2,990.9 1429.4,986.5 1430.6,985.2 1431.8,988.2 1433.0,986.9 1434.2,986.5 1435.4,985.5 1436.6,987.2 1437.8,985.0 1439.0,989.8 1440.2,989.3 1441.4,987.3 1442.6,981.4 1443.8,987.1 1445.0,987.9 1446.2,985.4 1447.4,989.4 1448.6,981.5 1449.8,987.9 1451.0,986.4 1452.2,990.5 1453.4,986.5 1454.6,987.4 1455.8,997.0 1457.0,988.4 1458.2,990.4 1459.4,988.1 1460.6,982.2 1461.8,991.9 1463.0,989.4 1464.2,990.1 1465.4,982.3 1466.6,987.5 1467.8,990.6 1469.0,991.5 1470.2,991.3 1471.4,997.0 1472.6,989.9 1473.8,994.7 1475.0,993.3 1476.2,993.0 1477.4,995.1 1478.6,996.3 1479.8,993.7 1481.0,986.6 1482.2,990.0 1483.4,993.4 1484.6,993.6 1485.8,1001.4 1487.0,994.2 1488.2,997.4 1489.4,996.3 1490.6,991.5 1491.8,996.2 1493.0,997.8 1494.2,995.3 1495.4,999.4 1496.6,1001.0 1497.8,1003.9 1499.0,1003.2 1500.2,1006.4 1501.4,1007.4 1502.6,998.9 1503.8,1011.0 1505.0,1005.5 1506.2,1007.3 1507.4,1005.4 1508.6,1005.9 1509.8,1007.9 1511.0,1014.6 1512.2,1008.5 1513.4,1016.7 1514.6,1015.8 1515.8,1012.7 1517.0,1010.3 1518.2,1010.6 1519.4,1014.1 1520.6,1011.6 1521.8,1006.5 1523.0,1015.6 1524.2,1010.3 1525.4,1012.6 1526.6,1013.4 1527.8,1012.3 1529.0,1018.7 1530.2,1010.5 1531.4,1016.0 1532.6,1003.2 1533.8,1009.5 1535.0,1009.7 1536.2,1009.8 1537.4,1006.8 1538.6,1012.2 1539.8,1014.5 1541.0,1017.1 1542.2,1010.4 1543.4,1019.8 1544.6,1011.7 1545.8,1011.1 1547.0,1015.2 1548.2,1006.3 1549.4,1012.2 1550.6,1011.6 1551.8,1014.7 1553.0,1021.0 1554.2,1013.4 1555.4,1025.5 1556.6,1019.8 1557.8,1020.9 1559.0,1018.1 1560.2,1024.2 1561.4,1019.3 1562.6,1023.6 1563.8,1018.0 1565.0,1026.6 1566.2,1027.7 1567.4,1019.3 1568.6,1017.0 1569.8,1028.4 1571.0,1018.6 1572.2,1023.5 1573.4,1027.4 1574.6,1013.7 1575.8,1023.7 1577.0,1016.5 1578.2,1022.9 1579.4,1026.6 1580.6,1018.3 1581.8,1021.4 1583.0,1026.6 1584.2,1026.0 1585.4,1027.0 1586.6,1025.4 1587.8,1023.9 1589.0,1024.8 1590.2,1027.6 1591.4,1034.1 1592.6,1024.9 1593.8,1024.2 1595.0,1025.2 1596.2,1021.1 1597.4,1023.8 1598.6,1029.8 1599.8,1022.7 1601.0,1023.8 1602.2,1030.4 1603.4,1025.2 1604.6,1033.7 1605.8,1026.0 1607.0,1024.5 1608.2,1026.6 1609.4,1019.1 1610.6,1026.5 1611.8,1027.1 1613.0,1034.7 1614.2,1028.2 1615.4,1025.7 1616.6,1025.5 1617.8,1025.7 1619.0,1023.9 1620.2,1023.0 1621.4,1022.9 1622.6,1027.9 1623.8,1032.7 1625.0,1024.1 1626.2,1021.7 1627.4,1023.1 1628.6,1018.7 1629.8,1021.5 1631.0,1019.1 1632.2,1021.8 1633.4,1027.0 1634.6,1026.2 1635.8,1011.7 1637.0,1014.2 1638.2,1014.1 1639.4,1023.1 1640.6,1018.6 1641.8,1014.4 1643.0,1010.4 1644.2,1018.2 1645.4,1018.2 1646.6,1024.1 1647.8,1028.1 1649.0,1020.8 1650.2,1026.1 1651.4,1023.0 1652.6,1024.7 1653.8,1018.0 1655.0,1027.7 1656.2,1021.6 1657.4,1027.6 1658.6,1024.4 1659.8,1031.5 1661.0,1025.4 1662.2,1027.9 1663.4,1028.5 1664.6,1027.6 1665.8,1024.8 1667.0,1026.1 1668.2,1028.9 1669.4,1023.9 1670.6,1032.9 1671.8,1032.0 1673.0,1024.5 1674.2,1024.4 1675.4,1029.8 1676.6,1022.8 1677.8,1038.7 1679.0,1026.5 1680.2,1031.6 1681.4,1031.8 1682.6,1032.6 1683.8,1031.7 1685.0,1033.0 1686.2,1032.6 1687.4,1028.6 1688.6,1029.8 1689.8,1039.7 1691.0,1033.7 1692.2,1035.7 1693.4,1037.9 1694.6,1030.5 1695.8,1031.0 1697.0,1035.9 1698.2,1033.5 1699.4,1035.0 1700.6,1034.8 1701.8,1034.2 1703.0,1037.4 1704.2,1037.4 1705.4,1032.6 1706.6,1035.4 1707.8,1040.1 1709.0,1042.2 1710.2,1035.3 1711.4,1039.2"/>
<polyline fill="none" stroke="#0000ff" stroke-width="7.0" stroke-linejoin="round" points="177.5,833 180.0,903.7 181.2,911.6 182.4,907.0 183.6,916.4 184.8,912.9 186.0,915.5 187.2,918.7 188.4,918.4 189.6,918.5 190.8,918.5 192.0,917.1 193.2,925.1 194.4,923.9 195.6,922.0 196.8,930.3 198.0,925.6 199.2,927.7 200.4,927.8 201.6,931.1 202.8,931.8 204.0,932.9 205.2,931.1 206.4,931.7 207.6,931.8 208.8,932.9 210.0,931.0 211.2,931.8 212.4,942.8 213.6,942.9 214.8,933.4 216.0,928.6 217.2,934.4 218.4,938.8 219.6,940.1 220.8,930.2 222.0,939.0 223.2,930.9 224.4,939.1 225.6,940.1 226.8,947.3 228.0,937.6 229.2,942.2 230.4,943.5 231.6,945.2 232.8,932.0 234.0,940.0 235.2,948.3 236.4,939.8 237.6,943.4 238.8,941.0 240.0,943.1 241.2,940.8 242.4,932.4 243.6,934.9 244.8,935.2 246.0,937.0 247.2,945.9 248.4,938.8 249.6,940.2 250.8,937.3 252.0,936.7 253.2,937.3 254.4,938.8 255.6,937.1 256.8,933.9 258.0,925.0 259.2,927.6 260.4,919.8 261.6,926.3 262.8,927.4 264.0,917.2 265.2,919.6 266.4,920.3 267.6,918.0 268.8,921.4 270.0,916.7 271.2,917.5 272.4,915.3 273.6,914.7 274.8,919.0 276.0,918.0 277.2,906.5 278.4,913.4 279.6,908.6 280.8,904.7 282.0,908.0 283.2,908.4 284.4,915.1 285.6,906.6 286.8,899.0 288.0,910.2 289.2,901.9 290.4,906.7 291.6,911.7 292.8,909.8 294.0,910.8 295.2,915.1 296.4,906.0 297.6,915.8 298.8,916.2 300.0,926.2 301.2,922.3 302.4,914.2 303.6,917.5 304.8,919.7 306.0,921.3 307.2,918.4 308.4,918.4 309.6,924.3 310.8,925.5 312.0,918.0 313.2,922.8 314.4,916.9 315.6,912.7 316.8,917.7 318.0,918.4 319.2,921.4 320.4,924.4 321.6,918.8 322.8,918.8 324.0,918.6 325.2,918.8 326.4,919.8 327.6,925.9 328.8,917.4 330.0,913.5 331.2,916.8 332.4,916.9 333.6,918.6 334.8,922.5 336.0,914.1 337.2,920.1 338.4,923.2 339.6,918.1 340.8,913.6 342.0,916.9 343.2,913.4 344.4,920.6 345.6,914.4 346.8,914.3 348.0,919.2 349.2,918.7 350.4,916.0 351.6,919.9 352.8,908.4 354.0,921.3 355.2,913.6 356.4,911.2 357.6,915.0 358.8,912.5 360.0,918.8 361.2,905.8 362.4,910.1 363.6,908.8 364.8,909.4 366.0,906.3 367.2,900.5 368.4,908.7 369.6,907.5 370.8,912.7 372.0,908.2 373.2,907.9 374.4,909.3 375.6,908.6 376.8,915.6 378.0,910.8 379.2,908.4 380.4,906.0 381.6,909.1 382.8,910.3 384.0,909.8 385.2,915.0 386.4,903.8 387.6,905.0 388.8,904.2 390.0,902.6 391.2,902.2 392.4,902.2 393.6,901.8 394.8,898.9 396.0,896.2 397.2,897.7 398.4,894.7 399.6,896.5 400.8,898.5 402.0,897.4 403.2,904.3 404.4,896.1 405.6,895.5 406.8,895.7 408.0,896.0 409.2,894.5 410.4,893.8 411.6,893.4 412.8,891.3 414.0,894.1 415.2,892.0 416.4,889.5 417.6,888.3 418.8,884.4 420.0,888.4 421.2,880.9 422.4,885.3 423.6,882.0 424.8,885.8 426.0,886.0 427.2,887.1 428.4,888.3 429.6,886.4 430.8,881.9 432.0,889.1 433.2,885.9 434.4,883.6 435.6,883.8 436.8,882.2 438.0,878.4 439.2,881.7 440.4,888.0 441.6,881.5 442.8,875.8 444.0,873.9 445.2,882.8 446.4,881.3 447.6,877.7 448.8,877.2 450.0,870.8 451.2,876.4 452.4,870.2 453.6,868.9 454.8,869.7 456.0,859.7 457.2,868.4 458.4,859.9 459.6,864.2 460.8,862.2 462.0,863.2 463.2,860.9 464.4,866.8 465.6,858.1 466.8,858.2 468.0,856.4 469.2,858.7 470.4,854.7 471.6,858.0 472.8,850.3 474.0,853.9 475.2,856.3 476.4,853.5 477.6,855.5 478.8,862.0 480.0,858.7 481.2,857.9 482.4,864.2 483.6,862.1 484.8,863.2 486.0,867.3 487.2,864.2 488.4,859.6 489.6,852.2 490.8,859.3 492.0,859.3 493.2,859.2 494.4,852.6 495.6,855.0 496.8,858.9 498.0,850.3 499.2,849.8 500.4,850.1 501.6,850.2 502.8,857.0 504.0,848.7 505.2,851.6 506.4,847.6 507.6,845.6 508.8,843.6 510.0,842.2 511.2,843.7 512.4,836.7 513.6,834.2 514.8,833.7 516.0,835.5 517.2,831.4 518.4,826.5 519.6,824.6 520.8,817.4 522.0,818.9 523.2,819.8 524.4,819.1 525.6,821.5 526.8,816.3 528.0,824.3 529.2,822.1 530.4,822.3 531.6,834.1 532.8,833.5 534.0,836.5 535.2,831.2 536.4,834.5 537.6,840.9 538.8,836.0 540.0,842.4 541.2,844.7 542.4,830.0 543.6,838.1 544.8,839.5 546.0,838.5 547.2,839.2 548.4,839.6 549.6,838.6 550.8,831.6 552.0,840.1 553.2,845.2 554.4,828.7 555.6,838.3 556.8,833.8 558.0,824.3 559.2,825.5 560.4,832.2 561.6,829.2 562.8,833.8 564.0,835.2 565.2,846.5 566.4,838.2 567.6,835.8 568.8,842.3 570.0,843.1 571.2,836.1 572.4,829.9 573.6,836.8 574.8,831.3 576.0,833.1 577.2,831.5 578.4,830.1 579.6,830.4 580.8,830.2 582.0,826.5 583.2,825.8 584.4,820.5 585.6,823.4 586.8,827.7 588.0,820.4 589.2,824.8 590.4,825.7 591.6,820.6 592.8,825.5 594.0,824.6 595.2,831.7 596.4,823.2 597.6,826.1 598.8,827.5 600.0,823.6 601.2,822.3 602.4,823.2 603.6,823.2 604.8,818.4 606.0,822.0 607.2,815.0 608.4,816.8 609.6,811.5 610.8,810.9 612.0,812.9 613.2,807.7 614.4,807.6 615.6,804.8 616.8,804.7 618.0,798.0 619.2,803.1 620.4,801.7 621.6,799.6 622.8,796.6 624.0,796.1 625.2,793.2 626.4,791.4 627.6,792.6 628.8,791.9 630.0,790.0 631.2,778.9 632.4,775.8 633.6,769.4 634.8,775.4 636.0,762.1 637.2,766.6 638.4,763.7 639.6,761.9 640.8,762.4 642.0,762.1 643.2,760.6 644.4,755.1 645.6,752.3 646.8,750.1 648.0,738.9 649.2,745.1 650.4,739.2 651.6,734.7 652.8,732.3 654.0,735.1 655.2,727.8 656.4,723.1 657.6,716.4 658.8,723.7 660.0,710.4 661.2,711.0 662.4,701.4 663.6,697.8 664.8,695.9 666.0,679.7 667.2,678.2 668.4,670.7 669.6,660.8 670.8,660.3 672.0,663.7 673.2,654.8 674.4,650.5 675.6,658.8 676.8,650.6 678.0,650.7 679.2,653.4 680.4,656.2 681.6,652.3 682.8,653.2 684.0,656.6 685.2,661.7 686.4,666.0 687.6,660.3 688.8,666.7 690.0,667.5 691.2,674.2 692.4,671.1 693.6,673.5 694.8,671.2 696.0,686.9 697.2,683.9 698.4,689.2 699.6,692.8 700.8,704.0 702.0,697.0 703.2,703.6 704.4,708.5 705.6,706.7 706.8,712.9 708.0,714.6 709.2,709.7 710.4,720.9 711.6,721.8 712.8,723.0 714.0,735.0 715.2,728.5 716.4,723.3 717.6,720.6 718.8,712.2 720.0,720.2 721.2,715.0 722.4,715.2 723.6,714.2 724.8,713.7 726.0,706.8 727.2,703.0 728.4,705.6 729.6,692.4 730.8,693.8 732.0,682.5 733.2,683.5 734.4,679.7 735.6,682.0 736.8,677.1 738.0,669.6 739.2,668.5 740.4,656.0 741.6,639.2 742.8,636.3 744.0,634.2 745.2,623.4 746.4,620.2 747.6,616.3 748.8,604.3 750.0,609.5 751.2,601.7 752.4,598.4 753.6,592.8 754.8,590.0 756.0,583.7 757.2,577.0 758.4,568.6 759.6,567.3 760.8,557.4 762.0,557.8 763.2,568.3 764.4,567.6 765.6,572.2 766.8,573.8 768.0,574.3 769.2,577.9 770.4,584.4 771.6,586.6 772.8,580.3 774.0,589.0 775.2,586.0 776.4,586.3 777.6,591.3 778.8,595.4 780.0,602.2 781.2,605.6 782.4,604.2 783.6,609.4 784.8,609.8 786.0,607.8 787.2,615.0 788.4,618.9 789.6,620.9 790.8,621.5 792.0,613.6 793.2,624.2 794.4,632.3 795.6,623.3 796.8,628.6 798.0,625.4 799.2,631.0 800.4,635.4 801.6,628.3 802.8,635.4 804.0,632.4 805.2,639.5 806.4,629.2 807.6,640.6 808.8,637.8 810.0,640.8 811.2,640.7 812.4,652.5 813.6,653.1 814.8,660.6 816.0,666.5 817.2,671.5 818.4,674.6 819.6,682.4 820.8,684.6 822.0,689.9 823.2,688.0 824.4,694.1 825.6,691.0 826.8,694.0 828.0,700.6 829.2,704.0 830.4,707.4 831.6,708.6 832.8,705.3 834.0,712.6 835.2,718.3 836.4,726.1 837.6,727.4 838.8,725.7 840.0,734.7 841.2,730.0 842.4,735.8 843.6,740.3 844.8,731.4 846.0,735.5 847.2,740.5 848.4,740.6 849.6,741.2 850.8,745.7 852.0,747.5 853.2,747.7 854.4,750.4 855.6,748.9 856.8,749.9 858.0,747.5 859.2,749.3 860.4,752.1 861.6,755.6 862.8,752.9 864.0,757.6 865.2,759.8 866.4,756.6 867.6,757.2 868.8,747.3 870.0,757.1 871.2,748.6 872.4,758.3 873.6,755.2 874.8,750.0 876.0,760.1 877.2,751.1 878.4,760.5 879.6,755.1 880.8,757.4 882.0,752.3 883.2,749.9 884.4,752.0 885.6,751.4 886.8,754.4 888.0,760.4 889.2,748.5 890.4,752.6 891.6,756.3 892.8,749.8 894.0,757.9 895.2,759.4 896.4,757.9 897.6,754.9 898.8,763.9 900.0,762.1 901.2,766.8 902.4,766.1 903.6,772.3 904.8,767.5 906.0,770.4 907.2,769.8 908.4,779.0 909.6,771.5 910.8,774.9 912.0,773.1 913.2,775.9 914.4,775.9 915.6,777.8 916.8,776.9 918.0,776.3 919.2,776.2 920.4,772.7 921.6,771.4 922.8,771.7 924.0,780.0 925.2,775.1 926.4,778.1 927.6,773.7 928.8,770.0 930.0,763.9 931.2,771.6 932.4,778.9 933.6,773.4 934.8,765.7 936.0,770.7 937.2,768.2 938.4,770.5 939.6,773.9 940.8,771.7 942.0,773.3 943.2,772.1 944.4,773.4 945.6,773.5 946.8,775.2 948.0,768.2 949.2,779.9 950.4,766.7 951.6,762.5 952.8,772.1 954.0,764.8 955.2,756.2 956.4,760.7 957.6,763.8 958.8,761.5 960.0,759.0 961.2,759.5 962.4,754.9 963.6,758.9 964.8,750.6 966.0,750.9 967.2,752.6 968.4,748.4 969.6,744.6 970.8,744.2 972.0,747.5 973.2,742.7 974.4,738.8 975.6,737.6 976.8,730.3 978.0,732.6 979.2,726.9 980.4,724.9 981.6,720.8 982.8,723.5 984.0,715.1 985.2,719.9 986.4,715.3 987.6,709.4 988.8,707.1 990.0,706.6 991.2,706.3 992.4,711.1 993.6,705.8 994.8,700.3 996.0,700.2 997.2,691.9 998.4,699.6 999.6,697.4 1000.8,696.1 1002.0,695.3 1003.2,688.7 1004.4,693.7 1005.6,693.7 1006.8,693.3 1008.0,696.6 1009.2,692.0 1010.4,692.2 1011.6,694.9 1012.8,697.1 1014.0,700.9 1015.2,700.4 1016.4,699.7 1017.6,699.9 1018.8,704.5 1020.0,704.1 1021.2,706.8 1022.4,701.6 1023.6,712.0 1024.8,711.7 1026.0,724.2 1027.2,714.2 1028.4,714.3 1029.6,723.7 1030.8,733.1 1032.0,723.6 1033.2,721.7 1034.4,720.8 1035.6,717.9 1036.8,726.8 1038.0,725.3 1039.2,729.3 1040.4,724.4 1041.6,727.1 1042.8,721.5 1044.0,729.5 1045.2,738.6 1046.4,737.5 1047.6,739.6 1048.8,748.5 1050.0,744.9 1051.2,743.1 1052.4,750.7 1053.6,754.0 1054.8,758.4 1056.0,757.3 1057.2,760.7 1058.4,767.2 1059.6,766.0 1060.8,765.4 1062.0,774.7 1063.2,771.5 1064.4,776.3 1065.6,777.8 1066.8,778.3 1068.0,777.6 1069.2,782.1 1070.4,778.9 1071.6,786.2 1072.8,787.1 1074.0,787.6 1075.2,790.4 1076.4,791.1 1077.6,794.4 1078.8,796.0 1080.0,798.4 1081.2,792.3 1082.4,797.9 1083.6,807.7 1084.8,803.2 1086.0,806.7 1087.2,811.4 1088.4,811.2 1089.6,813.3 1090.8,808.5 1092.0,816.4 1093.2,818.0 1094.4,817.9 1095.6,818.2 1096.8,816.7 1098.0,819.7 1099.2,814.7 1100.4,820.3 1101.6,814.6 1102.8,820.1 1104.0,818.2 1105.2,830.1 1106.4,825.5 1107.6,823.8 1108.8,827.4 1110.0,825.5 1111.2,829.0 1112.4,828.8 1113.6,828.8 1114.8,834.8 1116.0,831.9 1117.2,837.1 1118.4,829.2 1119.6,830.3 1120.8,832.4 1122.0,832.1 1123.2,829.8 1124.4,827.0 1125.6,834.8 1126.8,830.9 1128.0,824.1 1129.2,833.7 1130.4,831.3 1131.6,834.3 1132.8,828.6 1134.0,830.7 1135.2,837.5 1136.4,833.3 1137.6,832.0 1138.8,836.1 1140.0,833.8 1141.2,829.7 1142.4,830.9 1143.6,836.6 1144.8,838.4 1146.0,834.1 1147.2,832.8 1148.4,837.7 1149.6,834.8 1150.8,840.5 1152.0,836.8 1153.2,833.7 1154.4,840.9 1155.6,837.9 1156.8,837.5 1158.0,837.2 1159.2,838.4 1160.4,841.3 1161.6,835.3 1162.8,842.1 1164.0,842.1 1165.2,840.3 1166.4,846.0 1167.6,846.0 1168.8,851.9 1170.0,849.1 1171.2,846.4 1172.4,845.6 1173.6,852.0 1174.8,854.7 1176.0,852.6 1177.2,854.1 1178.4,857.3 1179.6,856.4 1180.8,856.8 1182.0,861.3 1183.2,854.5 1184.4,855.4 1185.6,865.4 1186.8,862.6 1188.0,868.7 1189.2,861.2 1190.4,860.5 1191.6,867.7 1192.8,861.8 1194.0,860.5 1195.2,860.6 1196.4,860.9 1197.6,855.0 1198.8,857.7 1200.0,861.9 1201.2,862.3 1202.4,865.1 1203.6,861.5 1204.8,857.6 1206.0,862.8 1207.2,858.7 1208.4,862.5 1209.6,860.2 1210.8,861.6 1212.0,867.5 1213.2,864.5 1214.4,866.5 1215.6,861.6 1216.8,865.1 1218.0,865.2 1219.2,874.3 1220.4,868.6 1221.6,869.8 1222.8,867.8 1224.0,860.6 1225.2,868.3 1226.4,867.4 1227.6,866.8 1228.8,864.6 1230.0,863.1 1231.2,864.4 1232.4,863.6 1233.6,859.5 1234.8,865.8 1236.0,864.4 1237.2,859.6 1238.4,863.4 1239.6,868.9 1240.8,862.3 1242.0,855.0 1243.2,869.2 1244.4,862.2 1245.6,860.8 1246.8,867.3 1248.0,859.9 1249.2,857.6 1250.4,851.7 1251.6,861.9 1252.8,855.6 1254.0,861.6 1255.2,854.1 1256.4,860.4 1257.6,851.7 1258.8,861.6 1260.0,852.2 1261.2,864.9 1262.4,861.3 1263.6,863.5 1264.8,866.5 1266.0,861.9 1267.2,862.0 1268.4,867.4 1269.6,863.5 1270.8,864.9 1272.0,862.7 1273.2,870.9 1274.4,863.3 1275.6,859.3 1276.8,855.7 1278.0,866.0 1279.2,857.9 1280.4,863.1 1281.6,862.5 1282.8,865.2 1284.0,861.5 1285.2,859.2 1286.4,859.3 1287.6,858.1 1288.8,862.2 1290.0,856.5 1291.2,860.8 1292.4,858.5 1293.6,856.4 1294.8,861.1 1296.0,861.2 1297.2,859.8 1298.4,856.6 1299.6,856.5 1300.8,858.2 1302.0,857.7 1303.2,857.2 1304.4,855.2 1305.6,855.6 1306.8,858.0 1308.0,860.4 1309.2,857.4 1310.4,858.8 1311.6,866.7 1312.8,858.0 1314.0,861.6 1315.2,859.9 1316.4,858.9 1317.6,859.9 1318.8,854.4 1320.0,860.9 1321.2,863.8 1322.4,855.6 1323.6,862.7 1324.8,855.7 1326.0,858.4 1327.2,863.9 1328.4,863.8 1329.6,861.3 1330.8,863.5 1332.0,860.8 1333.2,866.9 1334.4,867.3 1335.6,873.8 1336.8,868.3 1338.0,872.5 1339.2,870.5 1340.4,868.9 1341.6,868.6 1342.8,863.5 1344.0,864.8 1345.2,868.3 1346.4,866.6 1347.6,863.1 1348.8,869.6 1350.0,865.8 1351.2,860.9 1352.4,861.8 1353.6,859.9 1354.8,863.4 1356.0,865.8 1357.2,865.3 1358.4,862.4 1359.6,860.9 1360.8,864.4 1362.0,865.7 1363.2,865.3 1364.4,865.9 1365.6,871.5 1366.8,870.0 1368.0,869.2 1369.2,867.1 1370.4,868.7 1371.6,870.4 1372.8,868.8 1374.0,863.0 1375.2,871.3 1376.4,874.4 1377.6,869.8 1378.8,874.1 1380.0,873.7 1381.2,873.5 1382.4,864.9 1383.6,864.6 1384.8,872.6 1386.0,872.8 1387.2,868.3 1388.4,880.6 1389.6,870.5 1390.8,874.7 1392.0,872.1 1393.2,872.3 1394.4,875.5 1395.6,880.6 1396.8,865.6 1398.0,874.5 1399.2,873.6 1400.4,872.8 1401.6,871.9 1402.8,872.7 1404.0,871.1 1405.2,878.6 1406.4,869.3 1407.6,869.8 1408.8,874.8 1410.0,873.2 1411.2,874.4 1412.4,874.4 1413.6,875.4 1414.8,870.4 1416.0,875.5 1417.2,873.0 1418.4,875.6 1419.6,873.4 1420.8,877.5 1422.0,878.0 1423.2,875.6 1424.4,873.1 1425.6,874.4 1426.8,874.2 1428.0,872.4 1429.2,869.7 1430.4,876.3 1431.6,875.3 1432.8,870.1 1434.0,876.7 1435.2,876.6 1436.4,876.3 1437.6,872.0 1438.8,876.2 1440.0,876.5 1441.2,872.6 1442.4,874.8 1443.6,885.0 1444.8,885.2 1446.0,881.9 1447.2,877.7 1448.4,879.7 1449.6,873.8 1450.8,878.0 1452.0,880.1 1453.2,877.5 1454.4,882.4 1455.6,881.9 1456.8,878.0 1458.0,873.0 1459.2,880.9 1460.4,878.2 1461.6,882.5 1462.8,881.2 1464.0,884.9 1465.2,876.2 1466.4,881.6 1467.6,885.8 1468.8,885.6 1470.0,886.1 1471.2,878.1 1472.4,883.6 1473.6,884.7 1474.8,884.7 1476.0,876.8 1477.2,887.3 1478.4,887.4 1479.6,885.8 1480.8,882.8 1482.0,883.6 1483.2,878.9 1484.4,887.5 1485.6,888.9 1486.8,888.8 1488.0,888.1 1489.2,887.7 1490.4,889.9 1491.6,888.9 1492.8,889.4 1494.0,884.4 1495.2,897.4 1496.4,881.6 1497.6,891.0 1498.8,891.7 1500.0,889.8 1501.2,892.2 1502.4,898.0 1503.6,892.9 1504.8,893.8 1506.0,889.1 1507.2,892.4 1508.4,889.5 1509.6,893.0 1510.8,895.7 1512.0,891.8 1513.2,890.4 1514.4,897.6 1515.6,891.4 1516.8,891.9 1518.0,901.5 1519.2,900.1 1520.4,897.2 1521.6,890.6 1522.8,897.6 1524.0,895.4 1525.2,896.2 1526.4,895.7 1527.6,896.5 1528.8,896.2 1530.0,898.3 1531.2,894.0 1532.4,900.3 1533.6,901.7 1534.8,910.3 1536.0,900.4 1537.2,905.1 1538.4,902.3 1539.6,902.9 1540.8,910.0 1542.0,904.8 1543.2,907.9 1544.4,912.3 1545.6,905.2 1546.8,908.4 1548.0,910.5 1549.2,904.8 1550.4,901.1 1551.6,905.4 1552.8,904.1 1554.0,909.4 1555.2,912.2 1556.4,899.4 1557.6,906.2 1558.8,904.3 1560.0,906.8 1561.2,901.9 1562.4,906.2 1563.6,903.3 1564.8,907.3 1566.0,901.9 1567.2,909.6 1568.4,913.7 1569.6,913.0 1570.8,909.1 1572.0,904.9 1573.2,912.4 1574.4,910.0 1575.6,907.3 1576.8,911.2 1578.0,913.0 1579.2,909.4 1580.4,912.7 1581.6,910.0 1582.8,913.6 1584.0,912.1 1585.2,915.3 1586.4,910.3 1587.6,914.5 1588.8,910.9 1590.0,912.2 1591.2,916.2 1592.4,913.4 1593.6,915.0 1594.8,912.6 1596.0,912.5 1597.2,917.4 1598.4,909.2 1599.6,914.4 1600.8,912.1 1602.0,914.9 1603.2,919.1 1604.4,909.4 1605.6,915.6 1606.8,908.6 1608.0,910.8 1609.2,919.6 1610.4,908.9 1611.6,910.8 1612.8,917.2 1614.0,911.9 1615.2,913.0 1616.4,911.3 1617.6,913.3 1618.8,913.7 1620.0,921.5 1621.2,913.7 1622.4,922.2 1623.6,913.6 1624.8,909.7 1626.0,914.6 1627.2,914.2 1628.4,916.2 1629.6,913.9 1630.8,916.3 1632.0,913.5 1633.2,916.3 1634.4,913.0 1635.6,913.0 1636.8,912.8 1638.0,915.1 1639.2,912.3 1640.4,910.1 1641.6,914.3 1642.8,917.8 1644.0,909.9 1645.2,911.8 1646.4,913.4 1647.6,910.8 1648.8,916.7 1650.0,916.8 1651.2,914.8 1652.4,920.8 1653.6,920.1 1654.8,918.6 1656.0,917.1 1657.2,923.5 1658.4,919.1 1659.6,921.0 1660.8,917.8 1662.0,924.3 1663.2,921.3 1664.4,919.4 1665.6,923.7 1666.8,916.7 1668.0,920.2 1669.2,921.7 1670.4,924.7 1671.6,925.2 1672.8,921.8 1674.0,923.3 1675.2,922.8 1676.4,921.6 1677.6,920.0 1678.8,924.1 1680.0,925.5 1681.2,925.9 1682.4,927.2 1683.6,926.6 1684.8,924.7 1686.0,921.9 1687.2,925.7 1688.4,925.1 1689.6,918.0 1690.8,931.1 1692.0,927.1 1693.2,929.8 1694.4,926.8 1695.6,922.8 1696.8,925.5 1698.0,928.5 1699.2,932.9 1700.4,928.6 1701.6,932.9 1702.8,932.4 1704.0,926.6 1705.2,925.7 1706.4,930.0 1707.6,931.1 1708.8,929.5 1710.0,932.0 1711.2,937.3"/>
<polyline fill="none" stroke="#ff00ff" stroke-width="7.0" stroke-linejoin="round" points="177.5,724 178.0,787.0 179.2,786.3 180.4,795.3 181.6,790.2 182.8,797.8 184.0,807.6 185.2,808.1 186.4,808.4 187.6,808.8 188.8,811.6 190.0,811.4 191.2,814.6 192.4,813.8 193.6,815.2 194.8,816.4 196.0,824.0 197.2,819.4 198.4,816.6 199.6,821.6 200.8,821.2 202.0,812.6 203.2,821.1 204.4,822.6 205.6,822.4 206.8,822.7 208.0,822.0 209.2,818.4 210.4,829.9 211.6,822.3 212.8,820.4 214.0,824.3 215.2,830.5 216.4,820.5 217.6,823.5 218.8,822.8 220.0,823.7 221.2,827.8 222.4,820.8 223.6,819.8 224.8,821.0 226.0,823.4 227.2,823.1 228.4,820.7 229.6,829.1 230.8,820.7 232.0,820.3 233.2,822.8 234.4,816.2 235.6,820.8 236.8,823.8 238.0,823.8 239.2,820.2 240.4,819.2 241.6,821.9 242.8,821.0 244.0,824.1 245.2,819.7 246.4,821.4 247.6,826.0 248.8,823.5 250.0,827.1 251.2,830.9 252.4,825.7 253.6,819.3 254.8,822.5 256.0,821.2 257.2,820.3 258.4,822.4 259.6,823.1 260.8,821.0 262.0,815.7 263.2,820.1 264.4,810.7 265.6,812.1 266.8,818.2 268.0,810.3 269.2,805.5 270.4,808.3 271.6,801.9 272.8,804.2 274.0,799.3 275.2,792.2 276.4,805.2 277.6,791.5 278.8,796.4 280.0,794.3 281.2,795.6 282.4,796.9 283.6,793.4 284.8,794.0 286.0,790.2 287.2,796.6 288.4,793.4 289.6,796.6 290.8,790.1 292.0,797.0 293.2,802.7 294.4,800.2 295.6,800.9 296.8,800.3 298.0,804.7 299.2,800.4 300.4,798.7 301.6,803.4 302.8,801.7 304.0,806.2 305.2,801.5 306.4,807.2 307.6,806.0 308.8,798.8 310.0,806.6 311.2,807.9 312.4,812.8 313.6,809.1 314.8,808.4 316.0,806.2 317.2,799.0 318.4,808.6 319.6,797.5 320.8,805.5 322.0,805.4 323.2,800.6 324.4,798.7 325.6,804.7 326.8,804.0 328.0,802.4 329.2,796.4 330.4,804.2 331.6,799.1 332.8,794.8 334.0,800.8 335.2,800.8 336.4,799.0 337.6,795.9 338.8,803.6 340.0,800.3 341.2,798.6 342.4,800.5 343.6,798.1 344.8,803.2 346.0,799.3 347.2,799.9 348.4,806.8 349.6,796.9 350.8,794.6 352.0,803.8 353.2,795.3 354.4,801.7 355.6,800.5 356.8,793.2 358.0,782.6 359.2,790.3 360.4,786.6 361.6,783.7 362.8,785.7 364.0,783.5 365.2,787.8 366.4,790.9 367.6,776.6 368.8,782.3 370.0,781.9 371.2,779.7 372.4,789.3 373.6,780.3 374.8,780.8 376.0,774.7 377.2,778.7 378.4,784.4 379.6,787.3 380.8,780.4 382.0,777.4 383.2,772.4 384.4,781.7 385.6,774.2 386.8,775.3 388.0,776.9 389.2,774.2 390.4,779.0 391.6,775.2 392.8,774.7 394.0,779.0 395.2,778.9 396.4,771.3 397.6,764.9 398.8,773.7 400.0,770.5 401.2,764.1 402.4,767.3 403.6,771.3 404.8,767.6 406.0,768.9 407.2,773.2 408.4,770.8 409.6,766.7 410.8,768.4 412.0,776.2 413.2,762.4 414.4,770.3 415.6,769.1 416.8,768.2 418.0,766.2 419.2,766.9 420.4,766.2 421.6,763.0 422.8,758.0 424.0,761.3 425.2,756.8 426.4,760.6 427.6,756.7 428.8,750.3 430.0,759.2 431.2,753.0 432.4,758.4 433.6,744.1 434.8,745.9 436.0,751.2 437.2,741.2 438.4,746.9 439.6,749.0 440.8,745.1 442.0,742.4 443.2,748.0 444.4,739.8 445.6,742.2 446.8,740.9 448.0,742.6 449.2,741.0 450.4,746.3 451.6,742.4 452.8,740.0 454.0,733.4 455.2,736.2 456.4,737.4 457.6,737.7 458.8,732.0 460.0,727.5 461.2,727.0 462.4,728.9 463.6,729.0 464.8,725.2 466.0,727.1 467.2,725.2 468.4,727.5 469.6,725.0 470.8,728.4 472.0,720.2 473.2,728.2 474.4,732.1 475.6,726.8 476.8,719.0 478.0,720.0 479.2,727.8 480.4,728.8 481.6,729.6 482.8,731.7 484.0,733.1 485.2,733.9 486.4,729.3 487.6,730.4 488.8,728.3 490.0,730.0 491.2,728.0 492.4,727.5 493.6,725.5 494.8,726.4 496.0,728.6 497.2,725.2 498.4,719.6 499.6,716.8 500.8,720.7 502.0,716.3 503.2,713.8 504.4,717.2 505.6,714.4 506.8,711.2 508.0,705.4 509.2,705.0 510.4,702.5 511.6,698.6 512.8,700.8 514.0,707.8 515.2,692.9 516.4,696.7 517.6,697.2 518.8,700.5 520.0,697.1 521.2,691.2 522.4,696.6 523.6,701.6 524.8,701.1 526.0,698.3 527.2,702.4 528.4,700.2 529.6,698.8 530.8,710.9 532.0,702.2 533.2,705.9 534.4,711.5 535.6,708.5 536.8,708.3 538.0,709.3 539.2,704.5 540.4,707.2 541.6,712.9 542.8,718.3 544.0,710.7 545.2,716.5 546.4,715.2 547.6,709.4 548.8,710.9 550.0,711.6 551.2,715.4 552.4,712.6 553.6,714.5 554.8,711.3 556.0,711.7 557.2,710.8 558.4,708.9 559.6,711.2 560.8,710.5 562.0,713.5 563.2,714.7 564.4,709.5 565.6,710.1 566.8,707.7 568.0,709.3 569.2,715.7 570.4,713.4 571.6,703.5 572.8,712.3 574.0,698.4 575.2,696.9 576.4,701.3 577.6,702.1 578.8,710.8 580.0,708.2 581.2,703.5 582.4,701.8 583.6,708.9 584.8,701.4 586.0,698.6 587.2,697.3 588.4,703.1 589.6,701.2 590.8,703.8 592.0,703.5 593.2,702.2 594.4,703.0 595.6,701.0 596.8,698.3 598.0,700.8 599.2,701.8 600.4,698.1 601.6,689.9 602.8,700.4 604.0,692.8 605.2,696.2 606.4,686.1 607.6,696.2 608.8,688.1 610.0,688.0 611.2,688.9 612.4,681.7 613.6,681.4 614.8,681.7 616.0,677.7 617.2,671.4 618.4,665.0 619.6,674.8 620.8,669.2 622.0,665.6 623.2,669.7 624.4,672.0 625.6,657.9 626.8,659.9 628.0,660.7 629.2,664.5 630.4,656.0 631.6,662.8 632.8,660.5 634.0,653.6 635.2,651.3 636.4,649.6 637.6,645.0 638.8,657.0 640.0,645.4 641.2,654.7 642.4,645.4 643.6,639.2 644.8,646.9 646.0,645.5 647.2,641.4 648.4,642.6 649.6,637.8 650.8,629.4 652.0,621.9 653.2,614.1 654.4,617.4 655.6,602.3 656.8,604.1 658.0,592.0 659.2,593.6 660.4,582.7 661.6,580.8 662.8,581.3 664.0,572.6 665.2,565.8 666.4,568.1 667.6,565.1 668.8,554.1 670.0,550.9 671.2,543.5 672.4,545.9 673.6,546.4 674.8,537.2 676.0,541.2 677.2,534.6 678.4,531.1 679.6,534.5 680.8,528.2 682.0,523.8 683.2,523.4 684.4,529.6 685.6,533.0 686.8,532.9 688.0,539.2 689.2,551.5 690.4,553.0 691.6,556.2 692.8,561.6 694.0,571.4 695.2,576.8 696.4,576.1 697.6,582.1 698.8,584.7 700.0,588.0 701.2,593.0 702.4,601.1 703.6,599.5 704.8,598.5 706.0,599.3 707.2,595.4 708.4,604.1 709.6,615.8 710.8,609.5 712.0,612.4 713.2,608.6 714.4,611.2 715.6,621.9 716.8,613.2 718.0,609.8 719.2,612.1 720.4,612.0 721.6,609.4 722.8,605.3 724.0,604.9 725.2,596.2 726.4,598.4 727.6,593.2 728.8,590.3 730.0,587.8 731.2,585.0 732.4,574.6 733.6,571.8 734.8,560.7 736.0,558.9 737.2,555.3 738.4,552.0 739.6,541.1 740.8,534.6 742.0,527.0 743.2,518.8 744.4,516.2 745.6,506.3 746.8,497.6 748.0,496.0 749.2,490.6 750.4,481.2 751.6,476.7 752.8,465.5 754.0,467.7 755.2,460.7 756.4,449.6 757.6,454.9 758.8,449.5 760.0,448.0 761.2,438.3 762.4,448.6 763.6,437.7 764.8,434.5 766.0,434.0 767.2,442.5 768.4,444.1 769.6,449.8 770.8,459.5 772.0,454.6 773.2,460.2 774.4,464.1 775.6,468.7 776.8,476.2 778.0,483.7 779.2,484.0 780.4,486.4 781.6,490.1 782.8,494.4 784.0,496.2 785.2,498.2 786.4,505.2 787.6,500.7 788.8,496.9 790.0,501.7 791.2,499.5 792.4,493.8 793.6,502.5 794.8,501.4 796.0,504.7 797.2,505.4 798.4,502.9 799.6,505.7 800.8,509.9 802.0,509.1 803.2,507.1 804.4,509.0 805.6,515.8 806.8,517.8 808.0,520.3 809.2,516.7 810.4,525.2 811.6,528.5 812.8,532.3 814.0,538.3 815.2,544.6 816.4,549.6 817.6,553.4 818.8,560.7 820.0,569.6 821.2,573.1 822.4,578.6 823.6,588.7 824.8,599.2 826.0,594.6 827.2,598.4 828.4,604.8 829.6,598.9 830.8,603.1 832.0,608.0 833.2,606.5 834.4,610.2 835.6,620.0 836.8,614.4 838.0,612.6 839.2,618.8 840.4,615.1 841.6,620.0 842.8,630.4 844.0,628.1 845.2,622.0 846.4,624.0 847.6,620.3 848.8,624.6 850.0,630.5 851.2,633.4 852.4,629.8 853.6,624.6 854.8,630.2 856.0,632.0 857.2,627.0 858.4,632.5 859.6,634.6 860.8,631.6 862.0,634.9 863.2,628.4 864.4,629.2 865.6,633.2 866.8,631.4 868.0,632.0 869.2,626.3 870.4,635.5 871.6,625.4 872.8,629.3 874.0,626.1 875.2,627.0 876.4,632.2 877.6,630.9 878.8,631.9 880.0,627.1 881.2,637.7 882.4,638.8 883.6,643.5 884.8,632.7 886.0,637.6 887.2,638.0 888.4,644.4 889.6,646.0 890.8,642.0 892.0,640.2 893.2,636.4 894.4,647.6 895.6,650.5 896.8,646.6 898.0,648.1 899.2,644.3 900.4,642.3 901.6,642.1 902.8,648.1 904.0,643.1 905.2,651.7 906.4,644.2 907.6,647.9 908.8,646.5 910.0,644.5 911.2,646.1 912.4,637.0 913.6,648.5 914.8,645.0 916.0,650.4 917.2,647.3 918.4,653.5 919.6,656.5 920.8,658.9 922.0,654.4 923.2,658.7 924.4,658.0 925.6,657.6 926.8,660.9 928.0,654.7 929.2,659.3 930.4,658.7 931.6,656.0 932.8,652.5 934.0,657.3 935.2,659.4 936.4,652.2 937.6,650.6 938.8,651.7 940.0,653.2 941.2,652.7 942.4,654.3 943.6,648.6 944.8,655.6 946.0,650.6 947.2,648.3 948.4,641.3 949.6,649.2 950.8,645.5 952.0,647.1 953.2,653.9 954.4,642.2 955.6,642.3 956.8,644.3 958.0,631.1 959.2,638.4 960.4,635.1 961.6,632.3 962.8,631.5 964.0,629.2 965.2,628.0 966.4,621.4 967.6,622.8 968.8,627.4 970.0,620.0 971.2,619.0 972.4,615.9 973.6,621.9 974.8,607.8 976.0,608.8 977.2,608.9 978.4,607.8 979.6,602.6 980.8,603.0 982.0,598.1 983.2,592.1 984.4,586.6 985.6,588.9 986.8,598.3 988.0,585.5 989.2,578.0 990.4,584.3 991.6,581.6 992.8,578.1 994.0,583.1 995.2,577.2 996.4,573.5 997.6,564.2 998.8,571.8 1000.0,569.8 1001.2,565.7 1002.4,573.1 1003.6,568.5 1004.8,562.8 1006.0,565.9 1007.2,565.8 1008.4,561.2 1009.6,569.9 1010.8,560.9 1012.0,563.5 1013.2,560.9 1014.4,557.3 1015.6,563.3 1016.8,566.0 1018.0,566.7 1019.2,566.0 1020.4,573.2 1021.6,572.9 1022.8,571.3 1024.0,571.7 1025.2,578.6 1026.4,576.1 1027.6,578.3 1028.8,580.6 1030.0,585.3 1031.2,585.2 1032.4,592.7 1033.6,589.8 1034.8,599.7 1036.0,594.3 1037.2,598.2 1038.4,595.2 1039.6,596.8 1040.8,599.6 1042.0,601.4 1043.2,605.7 1044.4,613.1 1045.6,608.9 1046.8,610.2 1048.0,618.8 1049.2,610.8 1050.4,616.1 1051.6,615.8 1052.8,617.2 1054.0,617.1 1055.2,627.2 1056.4,619.3 1057.6,620.9 1058.8,625.6 1060.0,621.6 1061.2,628.5 1062.4,632.1 1063.6,634.0 1064.8,640.1 1066.0,642.4 1067.2,634.2 1068.4,645.8 1069.6,653.1 1070.8,649.8 1072.0,650.6 1073.2,661.8 1074.4,662.1 1075.6,667.2 1076.8,665.9 1078.0,672.7 1079.2,674.4 1080.4,671.0 1081.6,676.4 1082.8,677.4 1084.0,677.0 1085.2,676.9 1086.4,677.7 1087.6,683.2 1088.8,685.1 1090.0,676.8 1091.2,688.4 1092.4,685.6 1093.6,688.2 1094.8,693.8 1096.0,693.6 1097.2,698.9 1098.4,700.4 1099.6,693.3 1100.8,696.6 1102.0,700.4 1103.2,702.3 1104.4,700.5 1105.6,701.1 1106.8,706.9 1108.0,697.2 1109.2,709.7 1110.4,706.0 1111.6,707.3 1112.8,713.9 1114.0,709.0 1115.2,709.3 1116.4,711.6 1117.6,710.3 1118.8,712.1 1120.0,713.7 1121.2,707.8 1122.4,712.6 1123.6,709.6 1124.8,708.9 1126.0,710.1 1127.2,707.4 1128.4,715.1 1129.6,714.6 1130.8,710.0 1132.0,707.8 1133.2,708.4 1134.4,708.5 1135.6,702.4 1136.8,705.2 1138.0,708.5 1139.2,705.5 1140.4,702.8 1141.6,709.3 1142.8,703.4 1144.0,701.5 1145.2,712.0 1146.4,704.5 1147.6,708.5 1148.8,702.9 1150.0,705.8 1151.2,705.4 1152.4,707.4 1153.6,698.8 1154.8,703.3 1156.0,704.2 1157.2,703.4 1158.4,707.9 1159.6,705.8 1160.8,711.7 1162.0,715.4 1163.2,717.5 1164.4,715.9 1165.6,717.1 1166.8,720.3 1168.0,714.8 1169.2,728.0 1170.4,716.9 1171.6,726.5 1172.8,732.8 1174.0,727.5 1175.2,724.5 1176.4,729.2 1177.6,727.7 1178.8,727.6 1180.0,733.4 1181.2,733.0 1182.4,729.5 1183.6,730.3 1184.8,732.4 1186.0,729.4 1187.2,733.5 1188.4,735.1 1189.6,737.0 1190.8,730.7 1192.0,733.7 1193.2,736.8 1194.4,738.0 1195.6,745.8 1196.8,743.7 1198.0,740.8 1199.2,743.3 1200.4,733.1 1201.6,740.6 1202.8,746.4 1204.0,741.3 1205.2,734.2 1206.4,741.2 1207.6,739.2 1208.8,740.0 1210.0,737.8 1211.2,735.9 1212.4,738.4 1213.6,734.7 1214.8,738.7 1216.0,745.1 1217.2,740.1 1218.4,737.6 1219.6,741.9 1220.8,742.0 1222.0,743.0 1223.2,741.8 1224.4,748.7 1225.6,737.9 1226.8,740.5 1228.0,741.1 1229.2,738.7 1230.4,740.3 1231.6,747.0 1232.8,741.3 1234.0,743.0 1235.2,738.8 1236.4,741.0 1237.6,737.8 1238.8,737.5 1240.0,747.5 1241.2,738.0 1242.4,737.1 1243.6,737.6 1244.8,731.4 1246.0,740.0 1247.2,736.6 1248.4,739.4 1249.6,742.0 1250.8,744.0 1252.0,738.3 1253.2,740.7 1254.4,735.7 1255.6,737.1 1256.8,740.4 1258.0,742.3 1259.2,739.9 1260.4,736.3 1261.6,740.9 1262.8,741.3 1264.0,745.3 1265.2,740.0 1266.4,740.0 1267.6,735.5 1268.8,740.7 1270.0,738.5 1271.2,741.8 1272.4,741.0 1273.6,738.9 1274.8,733.1 1276.0,748.9 1277.2,748.7 1278.4,736.5 1279.6,744.2 1280.8,748.1 1282.0,737.9 1283.2,742.9 1284.4,739.6 1285.6,739.4 1286.8,734.0 1288.0,738.2 1289.2,746.1 1290.4,734.0 1291.6,740.9 1292.8,741.0 1294.0,731.5 1295.2,737.7 1296.4,727.7 1297.6,734.5 1298.8,738.6 1300.0,738.2 1301.2,741.3 1302.4,732.4 1303.6,730.3 1304.8,731.3 1306.0,730.1 1307.2,730.9 1308.4,735.0 1309.6,728.1 1310.8,732.2 1312.0,731.3 1313.2,726.2 1314.4,730.4 1315.6,733.0 1316.8,731.0 1318.0,733.5 1319.2,730.5 1320.4,730.9 1321.6,733.5 1322.8,732.5 1324.0,735.9 1325.2,732.2 1326.4,736.1 1327.6,734.2 1328.8,732.2 1330.0,735.6 1331.2,737.7 1332.4,732.8 1333.6,731.5 1334.8,735.2 1336.0,742.7 1337.2,734.4 1338.4,729.8 1339.6,732.1 1340.8,737.1 1342.0,729.9 1343.2,734.9 1344.4,735.2 1345.6,740.5 1346.8,729.6 1348.0,728.1 1349.2,740.7 1350.4,736.0 1351.6,732.9 1352.8,739.2 1354.0,736.1 1355.2,738.8 1356.4,738.9 1357.6,736.0 1358.8,742.9 1360.0,739.4 1361.2,742.3 1362.4,746.3 1363.6,740.0 1364.8,744.6 1366.0,743.0 1367.2,740.8 1368.4,744.7 1369.6,739.9 1370.8,743.6 1372.0,739.8 1373.2,741.3 1374.4,743.6 1375.6,747.0 1376.8,741.7 1378.0,752.2 1379.2,745.2 1380.4,744.4 1381.6,744.3 1382.8,745.5 1384.0,745.4 1385.2,743.0 1386.4,744.7 1387.6,751.4 1388.8,748.8 1390.0,746.2 1391.2,752.8 1392.4,749.6 1393.6,746.8 1394.8,755.4 1396.0,745.2 1397.2,746.3 1398.4,746.4 1399.6,750.9 1400.8,745.9 1402.0,747.2 1403.2,740.8 1404.4,748.2 1405.6,752.1 1406.8,748.0 1408.0,740.9 1409.2,749.0 1410.4,741.4 1411.6,736.0 1412.8,736.4 1414.0,751.2 1415.2,743.4 1416.4,749.3 1417.6,737.2 1418.8,747.2 1420.0,741.9 1421.2,744.7 1422.4,746.3 1423.6,750.1 1424.8,751.4 1426.0,749.6 1427.2,747.3 1428.4,751.9 1429.6,747.0 1430.8,750.5 1432.0,742.4 1433.2,754.3 1434.4,751.1 1435.6,748.0 1436.8,749.0 1438.0,749.8 1439.2,752.2 1440.4,749.5 1441.6,750.6 1442.8,741.3 1444.0,747.5 1445.2,750.4 1446.4,757.0 1447.6,749.2 1448.8,746.5 1450.0,749.8 1451.2,753.4 1452.4,750.7 1453.6,745.3 1454.8,748.6 1456.0,749.3 1457.2,756.6 1458.4,750.7 1459.6,752.1 1460.8,751.7 1462.0,761.2 1463.2,751.1 1464.4,751.0 1465.6,754.0 1466.8,749.9 1468.0,758.1 1469.2,751.4 1470.4,760.1 1471.6,764.8 1472.8,758.7 1474.0,762.1 1475.2,760.0 1476.4,757.8 1477.6,762.1 1478.8,767.2 1480.0,764.3 1481.2,759.0 1482.4,760.4 1483.6,753.5 1484.8,762.4 1486.0,759.4 1487.2,760.9 1488.4,760.7 1489.6,757.3 1490.8,757.8 1492.0,764.1 1493.2,762.8 1494.4,764.6 1495.6,764.9 1496.8,764.5 1498.0,761.8 1499.2,764.0 1500.4,764.7 1501.6,770.2 1502.8,772.0 1504.0,777.3 1505.2,770.8 1506.4,771.3 1507.6,771.7 1508.8,775.2 1510.0,776.2 1511.2,771.8 1512.4,770.8 1513.6,781.0 1514.8,776.1 1516.0,778.1 1517.2,777.6 1518.4,775.6 1519.6,767.4 1520.8,774.3 1522.0,771.8 1523.2,775.9 1524.4,776.4 1525.6,773.4 1526.8,776.2 1528.0,778.4 1529.2,770.8 1530.4,775.4 1531.6,775.4 1532.8,777.7 1534.0,778.7 1535.2,776.3 1536.4,781.6 1537.6,779.9 1538.8,772.9 1540.0,771.4 1541.2,776.9 1542.4,769.7 1543.6,778.7 1544.8,779.0 1546.0,780.6 1547.2,778.7 1548.4,777.8 1549.6,777.4 1550.8,777.0 1552.0,770.8 1553.2,774.4 1554.4,779.2 1555.6,776.8 1556.8,778.1 1558.0,774.7 1559.2,780.9 1560.4,781.0 1561.6,785.4 1562.8,780.6 1564.0,782.7 1565.2,782.2 1566.4,781.3 1567.6,789.0 1568.8,783.2 1570.0,781.9 1571.2,787.1 1572.4,779.5 1573.6,782.1 1574.8,789.9 1576.0,781.9 1577.2,784.2 1578.4,788.3 1579.6,788.4 1580.8,783.7 1582.0,784.9 1583.2,789.8 1584.4,785.6 1585.6,784.3 1586.8,784.8 1588.0,776.1 1589.2,777.9 1590.4,784.6 1591.6,785.1 1592.8,785.0 1594.0,783.1 1595.2,785.0 1596.4,784.9 1597.6,783.3 1598.8,791.5 1600.0,780.6 1601.2,793.5 1602.4,777.6 1603.6,783.9 1604.8,783.6 1606.0,781.9 1607.2,784.5 1608.4,784.5 1609.6,779.6 1610.8,786.5 1612.0,777.3 1613.2,786.3 1614.4,791.9 1615.6,789.5 1616.8,791.8 1618.0,784.1 1619.2,784.5 1620.4,786.4 1621.6,783.1 1622.8,785.5 1624.0,785.1 1625.2,782.9 1626.4,782.4 1627.6,788.8 1628.8,784.1 1630.0,787.7 1631.2,781.0 1632.4,783.6 1633.6,779.4 1634.8,787.4 1636.0,782.7 1637.2,785.8 1638.4,785.7 1639.6,786.0 1640.8,781.0 1642.0,784.5 1643.2,789.3 1644.4,785.9 1645.6,791.3 1646.8,783.4 1648.0,790.1 1649.2,790.2 1650.4,787.4 1651.6,785.6 1652.8,785.7 1654.0,786.3 1655.2,786.8 1656.4,788.9 1657.6,786.9 1658.8,791.4 1660.0,784.4 1661.2,794.7 1662.4,788.9 1663.6,792.4 1664.8,791.2 1666.0,784.7 1667.2,790.6 1668.4,793.5 1669.6,800.9 1670.8,796.5 1672.0,802.1 1673.2,794.1 1674.4,795.8 1675.6,794.1 1676.8,794.1 1678.0,788.5 1679.2,794.5 1680.4,797.3 1681.6,795.4 1682.8,804.2 1684.0,796.2 1685.2,803.9 1686.4,806.9 1687.6,803.3 1688.8,801.2 1690.0,801.5 1691.2,800.9 1692.4,800.8 1693.6,803.4 1694.8,804.1 1696.0,802.5 1697.2,800.6 1698.4,795.0 1699.6,803.0 1700.8,798.1 1702.0,795.9 1703.2,804.0 1704.4,798.2 1705.6,803.5 1706.8,804.7 1708.0,802.1 1709.2,809.5 1710.4,804.0 1711.6,800.5"/>
<polyline fill="none" stroke="#008500" stroke-width="7.0" stroke-linejoin="round" points="177.5,592 179.0,655.7 180.2,671.3 181.4,676.6 182.6,683.5 183.8,691.5 185.0,685.4 186.2,686.9 187.4,683.1 188.6,688.5 189.8,691.9 191.0,694.9 192.2,697.7 193.4,694.5 194.6,689.8 195.8,694.3 197.0,700.9 198.2,693.9 199.4,696.3 200.6,702.5 201.8,689.1 203.0,698.0 204.2,704.1 205.4,695.7 206.6,698.4 207.8,703.2 209.0,694.9 210.2,699.0 211.4,701.3 212.6,701.1 213.8,700.3 215.0,698.5 216.2,701.5 217.4,701.2 218.6,702.5 219.8,702.3 221.0,706.9 222.2,706.4 223.4,703.5 224.6,705.8 225.8,704.1 227.0,705.9 228.2,705.6 229.4,708.0 230.6,706.5 231.8,707.5 233.0,709.8 234.2,708.0 235.4,713.7 236.6,706.5 237.8,711.1 239.0,708.5 240.2,708.1 241.4,709.1 242.6,708.0 243.8,707.0 245.0,699.2 246.2,702.1 247.4,708.1 248.6,706.3 249.8,707.3 251.0,712.3 252.2,706.1 253.4,697.9 254.6,702.2 255.8,703.5 257.0,700.1 258.2,709.1 259.4,707.2 260.6,703.7 261.8,699.5 263.0,702.2 264.2,693.9 265.4,695.0 266.6,694.9 267.8,695.6 269.0,692.4 270.2,687.5 271.4,688.8 272.6,687.3 273.8,685.8 275.0,682.8 276.2,684.1 277.4,683.0 278.6,684.2 279.8,683.5 281.0,681.1 282.2,680.8 283.4,683.3 284.6,685.2 285.8,682.2 287.0,683.6 288.2,687.0 289.4,673.9 290.6,684.9 291.8,679.4 293.0,681.7 294.2,685.2 295.4,685.0 296.6,680.7 297.8,686.0 299.0,680.2 300.2,685.6 301.4,690.1 302.6,687.6 303.8,689.5 305.0,690.7 306.2,691.9 307.4,691.1 308.6,681.0 309.8,688.5 311.0,688.8 312.2,682.8 313.4,689.2 314.6,689.7 315.8,692.0 317.0,695.1 318.2,685.1 319.4,686.8 320.6,690.1 321.8,685.2 323.0,686.1 324.2,688.1 325.4,683.9 326.6,688.6 327.8,689.1 329.0,677.2 330.2,684.3 331.4,685.9 332.6,691.0 333.8,681.3 335.0,679.9 336.2,687.0 337.4,687.8 338.6,680.4 339.8,682.6 341.0,684.6 342.2,686.3 343.4,679.9 344.6,684.1 345.8,685.7 347.0,683.0 348.2,679.0 349.4,674.1 350.6,679.4 351.8,683.1 353.0,673.0 354.2,671.2 355.4,677.7 356.6,672.2 357.8,674.0 359.0,668.8 360.2,676.4 361.4,677.1 362.6,674.6 363.8,670.7 365.0,672.7 366.2,673.8 367.4,678.7 368.6,680.1 369.8,669.4 371.0,662.9 372.2,673.4 373.4,675.2 374.6,668.9 375.8,670.8 377.0,671.7 378.2,668.1 379.4,670.6 380.6,658.2 381.8,663.9 383.0,663.3 384.2,660.7 385.4,669.4 386.6,656.4 387.8,665.2 389.0,658.3 390.2,662.6 391.4,662.8 392.6,660.2 393.8,663.0 395.0,662.8 396.2,661.1 397.4,663.9 398.6,658.7 399.8,658.9 401.0,660.4 402.2,660.4 403.4,658.2 404.6,665.0 405.8,662.1 407.0,653.9 408.2,656.6 409.4,654.4 410.6,655.5 411.8,653.3 413.0,654.1 414.2,658.6 415.4,651.7 416.6,652.6 417.8,651.4 419.0,652.1 420.2,643.5 421.4,650.6 422.6,654.3 423.8,647.9 425.0,645.0 426.2,647.0 427.4,646.7 428.6,645.5 429.8,640.3 431.0,651.0 432.2,649.0 433.4,640.8 434.6,640.9 435.8,632.3 437.0,646.5 438.2,640.4 439.4,637.5 440.6,637.8 441.8,632.0 443.0,632.5 444.2,630.9 445.4,632.6 446.6,626.3 447.8,634.6 449.0,628.6 450.2,627.0 451.4,621.4 452.6,625.7 453.8,625.7 455.0,622.3 456.2,617.9 457.4,620.9 458.6,613.5 459.8,618.6 461.0,615.4 462.2,612.8 463.4,613.9 464.6,614.2 465.8,611.0 467.0,615.7 468.2,611.3 469.4,615.6 470.6,613.9 471.8,605.7 473.0,610.7 474.2,607.9 475.4,611.5 476.6,610.0 477.8,609.8 479.0,614.8 480.2,604.6 481.4,611.3 482.6,610.1 483.8,604.1 485.0,613.9 486.2,612.6 487.4,616.9 488.6,613.4 489.8,612.0 491.0,620.9 492.2,607.5 493.4,604.1 494.6,611.0 495.8,607.2 497.0,605.9 498.2,609.5 499.4,603.1 500.6,607.4 501.8,603.0 503.0,599.9 504.2,594.0 505.4,597.0 506.6,605.9 507.8,596.4 509.0,592.8 510.2,593.6 511.4,598.6 512.6,589.9 513.8,594.3 515.0,587.3 516.2,597.9 517.4,590.5 518.6,583.0 519.8,595.2 521.0,588.3 522.2,590.6 523.4,588.6 524.6,583.3 525.8,583.4 527.0,584.0 528.2,583.8 529.4,580.3 530.6,579.6 531.8,592.4 533.0,580.8 534.2,585.3 535.4,581.4 536.6,584.5 537.8,590.5 539.0,595.7 540.2,591.1 541.4,584.7 542.6,602.2 543.8,588.4 545.0,594.6 546.2,595.7 547.4,600.0 548.6,598.8 549.8,596.8 551.0,595.6 552.2,599.6 553.4,600.4 554.6,600.7 555.8,598.5 557.0,591.8 558.2,594.5 559.4,595.5 560.6,595.1 561.8,597.8 563.0,592.1 564.2,594.9 565.4,592.5 566.6,595.2 567.8,589.8 569.0,591.9 570.2,587.1 571.4,588.7 572.6,596.2 573.8,588.3 575.0,593.1 576.2,588.1 577.4,580.0 578.6,588.9 579.8,579.2 581.0,587.8 582.2,575.9 583.4,584.3 584.6,579.2 585.8,580.5 587.0,587.4 588.2,579.8 589.4,580.2 590.6,580.2 591.8,573.2 593.0,579.9 594.2,580.9 595.4,571.8 596.6,574.6 597.8,572.1 599.0,574.8 600.2,564.3 601.4,571.7 602.6,573.4 603.8,572.0 605.0,565.2 606.2,572.0 607.4,566.1 608.6,570.2 609.8,566.8 611.0,562.2 612.2,565.4 613.4,564.5 614.6,561.5 615.8,565.8 617.0,554.6 618.2,552.6 619.4,549.8 620.6,552.1 621.8,549.9 623.0,548.2 624.2,547.5 625.4,544.7 626.6,537.0 627.8,543.5 629.0,540.6 630.2,540.6 631.4,545.1 632.6,535.3 633.8,537.1 635.0,535.2 636.2,530.6 637.4,530.0 638.6,536.1 639.8,525.1 641.0,525.7 642.2,525.4 643.4,519.2 644.6,526.2 645.8,516.6 647.0,513.4 648.2,512.5 649.4,508.1 650.6,507.7 651.8,502.0 653.0,506.5 654.2,497.4 655.4,491.3 656.6,489.1 657.8,490.0 659.0,484.4 660.2,477.8 661.4,472.2 662.6,465.9 663.8,468.2 665.0,449.5 666.2,451.6 667.4,442.8 668.6,425.5 669.8,415.4 671.0,405.4 672.2,403.4 673.4,404.7 674.6,406.8 675.8,397.8 677.0,397.4 678.2,400.7 679.4,401.7 680.6,403.1 681.8,401.0 683.0,409.6 684.2,417.2 685.4,420.3 686.6,425.3 687.8,428.1 689.0,433.8 690.2,423.8 691.4,439.2 692.6,436.2 693.8,440.4 695.0,444.5 696.2,454.5 697.4,451.3 698.6,452.6 699.8,455.7 701.0,464.2 702.2,465.4 703.4,461.7 704.6,466.3 705.8,470.6 707.0,472.4 708.2,478.4 709.4,479.0 710.6,485.0 711.8,493.6 713.0,494.5 714.2,487.4 715.4,487.0 716.6,486.4 717.8,485.5 719.0,481.3 720.2,477.5 721.4,475.9 722.6,472.0 723.8,475.6 725.0,470.1 726.2,464.9 727.4,463.6 728.6,459.0 729.8,455.8 731.0,451.5 732.2,449.0 733.4,453.8 734.6,445.0 735.8,440.7 737.0,428.8 738.2,427.7 739.4,421.8 740.6,412.8 741.8,412.0 743.0,402.3 744.2,400.6 745.4,400.4 746.6,394.2 747.8,389.3 749.0,377.7 750.2,374.8 751.4,364.6 752.6,361.9 753.8,355.8 755.0,361.3 756.2,352.4 757.4,339.3 758.6,334.6 759.8,338.6 761.0,326.7 762.2,323.1 763.4,325.3 764.6,325.4 765.8,329.2 767.0,332.0 768.2,332.0 769.4,336.4 770.6,332.8 771.8,342.2 773.0,354.1 774.2,347.2 775.4,355.0 776.6,359.4 777.8,361.1 779.0,373.2 780.2,369.2 781.4,372.8 782.6,379.2 783.8,366.3 785.0,377.9 786.2,370.0 787.4,372.8 788.6,373.3 789.8,373.0 791.0,365.7 792.2,371.4 793.4,371.5 794.6,379.1 795.8,377.4 797.0,374.3 798.2,380.9 799.4,380.4 800.6,377.3 801.8,375.5 803.0,381.7 804.2,381.2 805.4,375.9 806.6,393.3 807.8,394.7 809.0,388.4 810.2,394.9 811.4,401.3 812.6,411.5 813.8,411.9 815.0,418.5 816.2,421.3 817.4,426.3 818.6,433.2 819.8,435.7 821.0,434.7 822.2,446.5 823.4,454.1 824.6,455.3 825.8,465.4 827.0,468.0 828.2,472.3 829.4,480.4 830.6,475.4 831.8,481.4 833.0,489.9 834.2,490.7 835.4,481.5 836.6,489.8 837.8,480.4 839.0,485.5 840.2,485.7 841.4,489.3 842.6,490.9 843.8,497.4 845.0,493.8 846.2,491.8 847.4,495.6 848.6,490.9 849.8,492.5 851.0,501.7 852.2,503.8 853.4,503.4 854.6,506.1 855.8,504.0 857.0,510.2 858.2,509.0 859.4,507.1 860.6,510.9 861.8,509.0 863.0,510.6 864.2,508.8 865.4,515.6 866.6,512.3 867.8,521.4 869.0,514.5 870.2,512.4 871.4,517.8 872.6,518.2 873.8,520.2 875.0,512.1 876.2,518.0 877.4,518.9 878.6,513.6 879.8,514.4 881.0,515.2 882.2,512.1 883.4,517.6 884.6,514.9 885.8,516.7 887.0,512.6 888.2,512.7 889.4,511.7 890.6,514.9 891.8,519.8 893.0,526.9 894.2,518.3 895.4,517.0 896.6,519.6 897.8,526.7 899.0,530.3 900.2,525.0 901.4,526.7 902.6,526.4 903.8,529.0 905.0,522.2 906.2,516.9 907.4,524.5 908.6,523.1 909.8,523.9 911.0,528.9 912.2,529.3 913.4,524.3 914.6,530.9 915.8,534.5 917.0,538.1 918.2,526.6 919.4,538.0 920.6,528.8 921.8,537.4 923.0,537.2 924.2,543.6 925.4,538.3 926.6,532.3 927.8,539.4 929.0,536.8 930.2,542.2 931.4,531.7 932.6,538.7 933.8,540.1 935.0,534.3 936.2,537.3 937.4,536.4 938.6,535.5 939.8,536.4 941.0,530.6 942.2,526.3 943.4,526.7 944.6,526.5 945.8,520.1 947.0,527.2 948.2,519.2 949.4,518.2 950.6,529.3 951.8,525.7 953.0,520.4 954.2,520.6 955.4,524.0 956.6,521.1 957.8,517.9 959.0,518.7 960.2,521.8 961.4,509.7 962.6,525.0 963.8,516.1 965.0,510.7 966.2,514.0 967.4,503.9 968.6,506.5 969.8,505.3 971.0,500.7 972.2,504.7 973.4,499.8 974.6,492.6 975.8,489.8 977.0,484.7 978.2,488.4 979.4,482.6 980.6,483.1 981.8,483.1 983.0,481.6 984.2,470.9 985.4,471.3 986.6,470.2 987.8,468.3 989.0,466.9 990.2,465.6 991.4,466.3 992.6,461.2 993.8,460.0 995.0,458.7 996.2,454.4 997.4,457.1 998.6,453.7 999.8,457.5 1001.0,453.4 1002.2,446.4 1003.4,444.6 1004.6,447.0 1005.8,443.1 1007.0,432.8 1008.2,439.7 1009.4,436.3 1010.6,439.1 1011.8,440.0 1013.0,444.6 1014.2,442.2 1015.4,447.0 1016.6,441.8 1017.8,443.7 1019.0,439.8 1020.2,450.6 1021.4,444.5 1022.6,449.1 1023.8,449.9 1025.0,453.6 1026.2,451.1 1027.4,449.3 1028.6,453.1 1029.8,448.2 1031.0,456.1 1032.2,461.4 1033.4,457.4 1034.6,474.5 1035.8,469.8 1037.0,471.1 1038.2,478.7 1039.4,474.9 1040.6,480.1 1041.8,488.6 1043.0,482.1 1044.2,487.4 1045.4,481.9 1046.6,488.7 1047.8,491.0 1049.0,488.9 1050.2,491.6 1051.4,494.2 1052.6,495.5 1053.8,492.5 1055.0,496.3 1056.2,505.8 1057.4,497.5 1058.6,502.1 1059.8,498.1 1061.0,502.4 1062.2,507.5 1063.4,512.8 1064.6,518.6 1065.8,524.3 1067.0,527.7 1068.2,531.9 1069.4,536.4 1070.6,534.0 1071.8,541.1 1073.0,541.2 1074.2,542.2 1075.4,543.5 1076.6,550.1 1077.8,550.3 1079.0,545.3 1080.2,552.9 1081.4,547.0 1082.6,554.6 1083.8,557.2 1085.0,559.2 1086.2,557.3 1087.4,556.2 1088.6,565.8 1089.8,570.6 1091.0,572.7 1092.2,571.6 1093.4,575.4 1094.6,578.9 1095.8,582.6 1097.0,579.1 1098.2,583.4 1099.4,578.6 1100.6,578.0 1101.8,579.2 1103.0,582.9 1104.2,585.7 1105.4,581.8 1106.6,583.7 1107.8,579.1 1109.0,583.0 1110.2,582.9 1111.4,583.2 1112.6,581.1 1113.8,585.0 1115.0,585.7 1116.2,585.7 1117.4,586.9 1118.6,585.1 1119.8,589.1 1121.0,586.4 1122.2,590.3 1123.4,586.0 1124.6,588.3 1125.8,584.5 1127.0,582.4 1128.2,593.4 1129.4,587.2 1130.6,581.6 1131.8,589.4 1133.0,594.7 1134.2,591.5 1135.4,597.6 1136.6,595.7 1137.8,589.9 1139.0,588.3 1140.2,584.9 1141.4,589.0 1142.6,591.6 1143.8,595.6 1145.0,582.7 1146.2,593.6 1147.4,592.8 1148.6,592.1 1149.8,586.8 1151.0,584.4 1152.2,592.6 1153.4,592.1 1154.6,590.7 1155.8,590.9 1157.0,584.6 1158.2,600.7 1159.4,596.3 1160.6,601.5 1161.8,596.8 1163.0,594.1 1164.2,598.0 1165.4,593.3 1166.6,598.3 1167.8,596.3 1169.0,598.9 1170.2,604.6 1171.4,601.6 1172.6,607.6 1173.8,605.1 1175.0,604.2 1176.2,605.1 1177.4,599.5 1178.6,608.6 1179.8,611.9 1181.0,607.0 1182.2,609.8 1183.4,618.5 1184.6,610.4 1185.8,617.6 1187.0,615.2 1188.2,612.8 1189.4,614.3 1190.6,608.3 1191.8,614.7 1193.0,617.2 1194.2,613.5 1195.4,609.7 1196.6,608.7 1197.8,613.9 1199.0,615.5 1200.2,620.8 1201.4,618.4 1202.6,619.3 1203.8,618.3 1205.0,618.5 1206.2,619.9 1207.4,621.1 1208.6,615.9 1209.8,618.0 1211.0,619.0 1212.2,624.9 1213.4,615.6 1214.6,616.3 1215.8,617.0 1217.0,612.7 1218.2,616.6 1219.4,623.5 1220.6,613.4 1221.8,615.2 1223.0,611.6 1224.2,616.2 1225.4,624.5 1226.6,617.1 1227.8,614.9 1229.0,616.3 1230.2,618.9 1231.4,622.0 1232.6,618.6 1233.8,618.7 1235.0,621.2 1236.2,613.8 1237.4,624.5 1238.6,617.4 1239.8,616.2 1241.0,619.4 1242.2,614.9 1243.4,613.0 1244.6,614.3 1245.8,617.1 1247.0,611.1 1248.2,615.0 1249.4,612.9 1250.6,615.4 1251.8,611.7 1253.0,617.7 1254.2,620.9 1255.4,614.5 1256.6,614.9 1257.8,616.7 1259.0,618.0 1260.2,610.3 1261.4,617.7 1262.6,619.4 1263.8,619.3 1265.0,616.6 1266.2,620.0 1267.4,617.5 1268.6,614.6 1269.8,615.9 1271.0,618.2 1272.2,618.1 1273.4,620.6 1274.6,619.7 1275.8,615.8 1277.0,617.8 1278.2,620.9 1279.4,618.5 1280.6,616.6 1281.8,624.9 1283.0,618.6 1284.2,617.4 1285.4,618.8 1286.6,617.2 1287.8,616.8 1289.0,619.5 1290.2,620.8 1291.4,617.6 1292.6,614.9 1293.8,617.9 1295.0,615.7 1296.2,613.9 1297.4,610.3 1298.6,612.5 1299.8,605.8 1301.0,600.6 1302.2,609.1 1303.4,609.3 1304.6,605.2 1305.8,604.1 1307.0,607.4 1308.2,611.9 1309.4,604.6 1310.6,606.7 1311.8,605.0 1313.0,608.9 1314.2,607.2 1315.4,606.9 1316.6,609.0 1317.8,608.4 1319.0,606.0 1320.2,608.3 1321.4,616.0 1322.6,612.0 1323.8,609.8 1325.0,611.1 1326.2,606.8 1327.4,610.4 1328.6,616.0 1329.8,609.5 1331.0,621.0 1332.2,617.0 1333.4,615.7 1334.6,614.2 1335.8,610.9 1337.0,614.9 1338.2,618.9 1339.4,617.3 1340.6,621.1 1341.8,616.2 1343.0,621.7 1344.2,622.5 1345.4,620.6 1346.6,616.6 1347.8,616.9 1349.0,613.6 1350.2,613.0 1351.4,621.4 1352.6,619.7 1353.8,621.9 1355.0,618.4 1356.2,619.1 1357.4,624.6 1358.6,628.4 1359.8,616.0 1361.0,622.9 1362.2,621.2 1363.4,613.1 1364.6,622.1 1365.8,619.9 1367.0,620.8 1368.2,629.9 1369.4,624.1 1370.6,616.2 1371.8,624.0 1373.0,615.0 1374.2,627.4 1375.4,624.0 1376.6,624.5 1377.8,615.9 1379.0,619.1 1380.2,624.5 1381.4,623.8 1382.6,627.4 1383.8,622.9 1385.0,623.9 1386.2,620.4 1387.4,624.4 1388.6,631.2 1389.8,622.6 1391.0,626.8 1392.2,621.1 1393.4,628.4 1394.6,624.3 1395.8,620.3 1397.0,626.5 1398.2,628.3 1399.4,620.6 1400.6,619.9 1401.8,622.1 1403.0,624.3 1404.2,630.9 1405.4,628.2 1406.6,623.5 1407.8,617.6 1409.0,625.7 1410.2,625.7 1411.4,623.4 1412.6,626.3 1413.8,633.8 1415.0,622.5 1416.2,624.9 1417.4,629.7 1418.6,623.3 1419.8,622.9 1421.0,623.9 1422.2,629.2 1423.4,623.3 1424.6,622.4 1425.8,628.2 1427.0,629.6 1428.2,629.6 1429.4,627.2 1430.6,632.8 1431.8,624.5 1433.0,627.6 1434.2,627.2 1435.4,628.4 1436.6,625.6 1437.8,624.9 1439.0,636.4 1440.2,627.1 1441.4,628.6 1442.6,633.8 1443.8,627.3 1445.0,627.8 1446.2,629.1 1447.4,623.1 1448.6,620.7 1449.8,629.6 1451.0,627.9 1452.2,623.5 1453.4,627.1 1454.6,630.1 1455.8,630.8 1457.0,628.7 1458.2,626.4 1459.4,631.9 1460.6,626.2 1461.8,630.7 1463.0,625.4 1464.2,634.5 1465.4,630.9 1466.6,628.7 1467.8,628.3 1469.0,629.1 1470.2,629.9 1471.4,629.6 1472.6,631.2 1473.8,625.3 1475.0,630.2 1476.2,633.2 1477.4,631.3 1478.6,640.2 1479.8,632.8 1481.0,631.8 1482.2,637.9 1483.4,633.6 1484.6,634.8 1485.8,636.0 1487.0,639.1 1488.2,633.7 1489.4,640.7 1490.6,637.8 1491.8,637.1 1493.0,637.4 1494.2,647.2 1495.4,646.1 1496.6,640.6 1497.8,639.9 1499.0,649.6 1500.2,634.2 1501.4,636.2 1502.6,643.3 1503.8,644.5 1505.0,636.6 1506.2,642.4 1507.4,640.8 1508.6,644.4 1509.8,644.1 1511.0,643.6 1512.2,644.4 1513.4,647.9 1514.6,645.5 1515.8,652.2 1517.0,649.9 1518.2,647.0 1519.4,652.8 1520.6,654.8 1521.8,651.5 1523.0,644.4 1524.2,653.4 1525.4,654.4 1526.6,656.7 1527.8,654.0 1529.0,653.0 1530.2,651.3 1531.4,650.4 1532.6,646.6 1533.8,655.3 1535.0,652.8 1536.2,650.8 1537.4,648.5 1538.6,651.2 1539.8,655.3 1541.0,651.4 1542.2,647.9 1543.4,654.0 1544.6,654.1 1545.8,657.1 1547.0,656.5 1548.2,656.5 1549.4,665.1 1550.6,660.9 1551.8,654.3 1553.0,656.6 1554.2,658.6 1555.4,654.1 1556.6,662.1 1557.8,662.7 1559.0,659.5 1560.2,666.2 1561.4,662.3 1562.6,660.2 1563.8,663.7 1565.0,664.6 1566.2,665.5 1567.4,672.4 1568.6,669.8 1569.8,664.8 1571.0,665.4 1572.2,658.0 1573.4,665.5 1574.6,663.1 1575.8,662.0 1577.0,668.8 1578.2,658.0 1579.4,662.2 1580.6,667.1 1581.8,666.4 1583.0,665.6 1584.2,668.7 1585.4,663.9 1586.6,663.5 1587.8,666.1 1589.0,661.6 1590.2,667.3 1591.4,671.8 1592.6,668.8 1593.8,670.1 1595.0,660.6 1596.2,665.5 1597.4,670.6 1598.6,669.2 1599.8,666.6 1601.0,667.0 1602.2,664.2 1603.4,664.2 1604.6,660.3 1605.8,670.6 1607.0,664.4 1608.2,674.0 1609.4,658.0 1610.6,668.6 1611.8,666.1 1613.0,659.0 1614.2,667.1 1615.4,667.5 1616.6,667.4 1617.8,667.4 1619.0,667.2 1620.2,668.2 1621.4,665.2 1622.6,672.9 1623.8,665.5 1625.0,663.6 1626.2,673.1 1627.4,663.2 1628.6,664.3 1629.8,665.8 1631.0,666.7 1632.2,662.6 1633.4,656.2 1634.6,663.9 1635.8,663.7 1637.0,664.7 1638.2,660.8 1639.4,665.6 1640.6,665.5 1641.8,667.5 1643.0,666.5 1644.2,666.3 1645.4,666.0 1646.6,669.8 1647.8,664.7 1649.0,668.6 1650.2,670.6 1651.4,671.0 1652.6,665.5 1653.8,668.6 1655.0,676.2 1656.2,673.3 1657.4,668.0 1658.6,671.4 1659.8,674.5 1661.0,675.6 1662.2,672.4 1663.4,668.0 1664.6,670.4 1665.8,665.0 1667.0,670.1 1668.2,667.5 1669.4,675.2 1670.6,675.4 1671.8,673.9 1673.0,678.5 1674.2,671.1 1675.4,672.0 1676.6,675.5 1677.8,675.0 1679.0,671.0 1680.2,679.9 1681.4,676.0 1682.6,676.0 1683.8,674.6 1685.0,676.2 1686.2,670.2 1687.4,674.3 1688.6,676.8 1689.8,676.6 1691.0,676.5 1692.2,670.3 1693.4,675.7 1694.6,685.2 1695.8,683.7 1697.0,680.7 1698.2,672.3 1699.4,673.0 1700.6,676.3 1701.8,682.1 1703.0,676.8 1704.2,677.4 1705.4,678.1 1706.6,682.0 1707.8,680.7 1709.0,684.5 1710.2,675.8 1711.4,674.7"/>
<polyline fill="none" stroke="#00008a" stroke-width="7.0" stroke-linejoin="round" points="177.5,428 180.0,526.9 181.2,554.8 182.4,567.5 183.6,566.1 184.8,565.9 186.0,562.2 187.2,572.0 188.4,574.0 189.6,576.9 190.8,577.7 192.0,578.6 193.2,579.0 194.4,581.3 195.6,581.3 196.8,580.9 198.0,580.2 199.2,579.6 200.4,589.6 201.6,580.9 202.8,580.2 204.0,577.3 205.2,591.5 206.4,580.1 207.6,583.2 208.8,579.4 210.0,583.1 211.2,585.1 212.4,590.6 213.6,585.5 214.8,594.9 216.0,579.2 217.2,586.6 218.4,587.2 219.6,590.4 220.8,594.6 222.0,587.7 223.2,589.0 224.4,588.0 225.6,592.7 226.8,591.4 228.0,585.2 229.2,591.8 230.4,594.1 231.6,584.2 232.8,592.3 234.0,595.7 235.2,601.8 236.4,594.9 237.6,587.8 238.8,595.3 240.0,593.4 241.2,597.6 242.4,595.0 243.6,594.1 244.8,597.1 246.0,591.9 247.2,597.7 248.4,601.4 249.6,601.0 250.8,593.5 252.0,594.4 253.2,594.4 254.4,592.9 255.6,592.1 256.8,583.8 258.0,585.3 259.2,589.7 260.4,588.9 261.6,585.6 262.8,587.8 264.0,587.4 265.2,587.5 266.4,583.7 267.6,583.6 268.8,586.3 270.0,583.0 271.2,583.1 272.4,580.5 273.6,582.3 274.8,579.7 276.0,580.5 277.2,573.0 278.4,572.9 279.6,573.0 280.8,571.9 282.0,571.4 283.2,572.4 284.4,568.4 285.6,573.0 286.8,567.5 288.0,562.3 289.2,566.7 290.4,566.9 291.6,569.3 292.8,570.6 294.0,567.1 295.2,565.6 296.4,570.8 297.6,562.6 298.8,573.7 300.0,571.9 301.2,580.6 302.4,581.1 303.6,571.3 304.8,577.3 306.0,577.1 307.2,572.6 308.4,576.1 309.6,583.5 310.8,577.6 312.0,571.6 313.2,576.6 314.4,576.8 315.6,569.4 316.8,585.8 318.0,582.2 319.2,576.2 320.4,579.6 321.6,579.2 322.8,578.5 324.0,579.5 325.2,579.6 326.4,582.2 327.6,573.1 328.8,579.5 330.0,578.7 331.2,575.4 332.4,575.0 333.6,579.3 334.8,582.4 336.0,570.4 337.2,577.6 338.4,581.9 339.6,577.6 340.8,576.8 342.0,575.5 343.2,570.2 344.4,572.8 345.6,575.0 346.8,573.8 348.0,572.8 349.2,570.1 350.4,574.2 351.6,572.8 352.8,568.1 354.0,569.3 355.2,568.6 356.4,564.3 357.6,562.1 358.8,563.1 360.0,562.9 361.2,564.3 362.4,557.0 363.6,563.4 364.8,565.2 366.0,564.5 367.2,565.2 368.4,566.9 369.6,570.6 370.8,563.8 372.0,563.3 373.2,564.8 374.4,565.1 375.6,561.2 376.8,555.5 378.0,560.5 379.2,560.5 380.4,561.7 381.6,562.4 382.8,559.6 384.0,568.6 385.2,564.0 386.4,560.4 387.6,558.1 388.8,555.6 390.0,559.3 391.2,559.3 392.4,551.5 393.6,559.0 394.8,560.5 396.0,556.7 397.2,556.8 398.4,558.6 399.6,560.9 400.8,552.9 402.0,547.4 403.2,551.7 404.4,549.5 405.6,551.2 406.8,551.6 408.0,553.6 409.2,557.3 410.4,548.6 411.6,556.3 412.8,546.4 414.0,548.2 415.2,544.8 416.4,544.9 417.6,537.9 418.8,543.0 420.0,543.4 421.2,543.2 422.4,540.9 423.6,533.4 424.8,544.5 426.0,537.5 427.2,536.4 428.4,529.9 429.6,535.2 430.8,534.8 432.0,536.5 433.2,535.7 434.4,537.7 435.6,536.9 436.8,539.7 438.0,533.9 439.2,539.0 440.4,535.6 441.6,529.5 442.8,533.2 444.0,536.4 445.2,535.5 446.4,534.0 447.6,530.9 448.8,536.6 450.0,527.0 451.2,529.4 452.4,522.9 453.6,527.0 454.8,526.3 456.0,524.9 457.2,522.7 458.4,520.9 459.6,523.7 460.8,518.2 462.0,515.6 463.2,508.7 464.4,514.9 465.6,514.3 466.8,510.8 468.0,510.9 469.2,508.6 470.4,506.1 471.6,501.8 472.8,503.6 474.0,508.4 475.2,510.8 476.4,504.6 477.6,512.6 478.8,515.9 480.0,519.1 481.2,516.9 482.4,517.1 483.6,515.3 484.8,514.3 486.0,513.5 487.2,516.9 488.4,508.0 489.6,505.2 490.8,513.2 492.0,510.1 493.2,516.2 494.4,506.4 495.6,508.0 496.8,507.1 498.0,507.0 499.2,502.8 500.4,513.3 501.6,505.3 502.8,509.2 504.0,503.6 505.2,502.5 506.4,501.3 507.6,497.7 508.8,497.1 510.0,494.6 511.2,498.2 512.4,499.3 513.6,492.4 514.8,487.9 516.0,491.8 517.2,498.5 518.4,485.9 519.6,488.3 520.8,488.8 522.0,482.4 523.2,482.6 524.4,479.8 525.6,482.1 526.8,489.9 528.0,486.8 529.2,483.5 530.4,488.6 531.6,492.9 532.8,501.3 534.0,492.8 535.2,494.0 536.4,491.8 537.6,493.2 538.8,490.7 540.0,491.8 541.2,493.3 542.4,488.3 543.6,493.4 544.8,490.2 546.0,487.4 547.2,503.1 548.4,494.2 549.6,496.6 550.8,493.4 552.0,494.5 553.2,497.5 554.4,496.9 555.6,494.4 556.8,493.1 558.0,492.6 559.2,497.8 560.4,490.0 561.6,494.2 562.8,488.7 564.0,497.4 565.2,503.4 566.4,497.1 567.6,494.3 568.8,492.5 570.0,493.9 571.2,487.5 572.4,491.2 573.6,484.9 574.8,485.0 576.0,493.3 577.2,483.3 578.4,490.8 579.6,487.2 580.8,479.0 582.0,473.3 583.2,479.1 584.4,480.4 585.6,484.7 586.8,476.3 588.0,475.5 589.2,471.8 590.4,476.5 591.6,473.4 592.8,473.3 594.0,470.8 595.2,467.4 596.4,475.2 597.6,473.9 598.8,477.1 600.0,466.3 601.2,477.5 602.4,477.8 603.6,473.1 604.8,473.7 606.0,476.7 607.2,477.0 608.4,477.3 609.6,466.4 610.8,467.9 612.0,468.3 613.2,469.5 614.4,459.9 615.6,457.6 616.8,448.2 618.0,459.0 619.2,448.4 620.4,445.3 621.6,448.0 622.8,437.4 624.0,443.6 625.2,444.1 626.4,433.2 627.6,438.6 628.8,434.6 630.0,431.4 631.2,438.7 632.4,424.7 633.6,427.2 634.8,423.5 636.0,427.6 637.2,420.2 638.4,419.1 639.6,415.9 640.8,415.4 642.0,406.7 643.2,410.8 644.4,412.6 645.6,405.8 646.8,401.3 648.0,393.4 649.2,395.6 650.4,392.2 651.6,388.7 652.8,381.5 654.0,379.4 655.2,376.4 656.4,371.5 657.6,369.1 658.8,360.2 660.0,362.9 661.2,359.0 662.4,355.5 663.6,348.7 664.8,345.3 666.0,340.3 667.2,334.1 668.4,330.6 669.6,313.1 670.8,316.3 672.0,317.4 673.2,320.5 674.4,316.8 675.6,310.8 676.8,317.4 678.0,304.6 679.2,305.6 680.4,297.7 681.6,303.6 682.8,301.1 684.0,300.2 685.2,308.3 686.4,303.2 687.6,306.4 688.8,317.8 690.0,325.3 691.2,321.7 692.4,325.3 693.6,334.5 694.8,329.2 696.0,335.3 697.2,331.2 698.4,341.0 699.6,343.0 700.8,351.7 702.0,348.9 703.2,351.4 704.4,355.2 705.6,351.1 706.8,360.8 708.0,362.2 709.2,370.4 710.4,365.9 711.6,365.5 712.8,376.2 714.0,379.7 715.2,378.3 716.4,372.4 717.6,373.8 718.8,373.8 720.0,372.2 721.2,370.6 722.4,366.3 723.6,367.7 724.8,356.9 726.0,351.6 727.2,352.7 728.4,348.2 729.6,335.9 730.8,344.4 732.0,338.5 733.2,331.5 734.4,328.8 735.6,323.1 736.8,315.9 738.0,314.1 739.2,309.4 740.4,297.3 741.6,292.3 742.8,297.3 744.0,292.5 745.2,286.6 746.4,272.4 747.6,264.7 748.8,243.9 750.0,244.1 751.2,228.1 752.4,232.8 753.6,220.8 754.8,224.8 756.0,211.2 757.2,215.6 758.4,210.1 759.6,204.8 760.8,200.5 762.0,202.7 763.2,206.8 764.4,204.0 765.6,202.5 766.8,208.1 768.0,208.4 769.2,209.0 770.4,209.6 771.6,210.9 772.8,219.9 774.0,223.2 775.2,230.4 776.4,231.7 777.6,235.6 778.8,237.0 780.0,240.2 781.2,244.1 782.4,248.0 783.6,259.1 784.8,253.2 786.0,251.5 787.2,250.7 788.4,256.7 789.6,250.3 790.8,249.6 792.0,262.4 793.2,259.0 794.4,256.9 795.6,252.4 796.8,251.6 798.0,257.5 799.2,252.3 800.4,260.5 801.6,267.9 802.8,265.8 804.0,266.2 805.2,272.8 806.4,267.1 807.6,275.6 808.8,279.5 810.0,286.8 811.2,290.7 812.4,288.2 813.6,294.3 814.8,299.3 816.0,308.9 817.2,311.3 818.4,318.3 819.6,317.9 820.8,326.6 822.0,333.7 823.2,326.1 824.4,335.4 825.6,335.7 826.8,343.9 828.0,338.5 829.2,343.6 830.4,349.9 831.6,353.6 832.8,353.5 834.0,360.7 835.2,367.1 836.4,366.7 837.6,362.2 838.8,371.5 840.0,371.7 841.2,376.8 842.4,377.8 843.6,380.7 844.8,378.2 846.0,384.6 847.2,386.3 848.4,389.9 849.6,395.0 850.8,388.5 852.0,389.9 853.2,391.5 854.4,391.6 855.6,395.4 856.8,398.0 858.0,387.3 859.2,393.4 860.4,396.2 861.6,396.5 862.8,395.7 864.0,396.0 865.2,398.1 866.4,399.3 867.6,395.2 868.8,396.9 870.0,396.3 871.2,394.1 872.4,395.3 873.6,404.6 874.8,395.2 876.0,389.6 877.2,396.0 878.4,397.7 879.6,393.4 880.8,389.3 882.0,394.3 883.2,398.0 884.4,395.7 885.6,392.6 886.8,397.6 888.0,395.0 889.2,392.7 890.4,399.8 891.6,395.9 892.8,396.6 894.0,397.4 895.2,404.7 896.4,403.1 897.6,404.6 898.8,404.4 900.0,406.4 901.2,397.8 902.4,406.6 903.6,410.0 904.8,413.3 906.0,409.0 907.2,410.8 908.4,416.7 909.6,411.0 910.8,411.8 912.0,411.5 913.2,411.0 914.4,414.5 915.6,413.5 916.8,407.0 918.0,412.8 919.2,423.4 920.4,417.5 921.6,416.5 922.8,414.7 924.0,411.5 925.2,418.1 926.4,416.2 927.6,421.7 928.8,424.8 930.0,418.7 931.2,414.1 932.4,412.2 933.6,410.8 934.8,412.0 936.0,408.5 937.2,409.7 938.4,406.1 939.6,405.6 940.8,407.7 942.0,405.7 943.2,397.5 944.4,403.7 945.6,402.3 946.8,398.2 948.0,395.8 949.2,402.7 950.4,398.2 951.6,399.0 952.8,397.1 954.0,398.5 955.2,403.5 956.4,396.0 957.6,392.2 958.8,395.1 960.0,387.9 961.2,384.7 962.4,392.8 963.6,391.0 964.8,388.7 966.0,384.9 967.2,382.2 968.4,384.3 969.6,379.5 970.8,375.8 972.0,375.8 973.2,373.8 974.4,371.5 975.6,369.5 976.8,369.8 978.0,364.5 979.2,362.7 980.4,362.6 981.6,358.4 982.8,354.8 984.0,349.4 985.2,350.1 986.4,348.8 987.6,345.9 988.8,345.0 990.0,342.8 991.2,336.4 992.4,336.3 993.6,326.0 994.8,330.3 996.0,319.5 997.2,331.0 998.4,325.3 999.6,329.2 1000.8,323.9 1002.0,323.6 1003.2,320.6 1004.4,320.5 1005.6,321.2 1006.8,320.8 1008.0,320.0 1009.2,327.7 1010.4,318.5 1011.6,322.9 1012.8,318.6 1014.0,318.2 1015.2,325.2 1016.4,318.9 1017.6,324.2 1018.8,323.7 1020.0,322.4 1021.2,322.5 1022.4,333.0 1023.6,331.2 1024.8,333.4 1026.0,329.7 1027.2,326.4 1028.4,331.4 1029.6,334.8 1030.8,336.2 1032.0,338.8 1033.2,345.9 1034.4,342.8 1035.6,338.1 1036.8,346.3 1038.0,350.7 1039.2,354.5 1040.4,355.2 1041.6,357.9 1042.8,360.8 1044.0,363.7 1045.2,364.0 1046.4,364.3 1047.6,365.6 1048.8,369.1 1050.0,377.0 1051.2,372.7 1052.4,378.2 1053.6,375.6 1054.8,380.6 1056.0,387.4 1057.2,397.9 1058.4,392.4 1059.6,389.5 1060.8,390.8 1062.0,387.7 1063.2,400.7 1064.4,398.1 1065.6,405.9 1066.8,399.9 1068.0,401.4 1069.2,407.8 1070.4,404.8 1071.6,410.0 1072.8,406.6 1074.0,413.0 1075.2,422.5 1076.4,421.0 1077.6,424.5 1078.8,426.2 1080.0,432.7 1081.2,437.5 1082.4,437.5 1083.6,437.7 1084.8,436.4 1086.0,447.4 1087.2,438.4 1088.4,441.0 1089.6,437.1 1090.8,436.4 1092.0,445.7 1093.2,439.6 1094.4,447.8 1095.6,446.2 1096.8,450.5 1098.0,455.0 1099.2,458.7 1100.4,457.7 1101.6,451.5 1102.8,456.7 1104.0,463.4 1105.2,462.4 1106.4,460.8 1107.6,465.4 1108.8,465.4 1110.0,467.7 1111.2,466.9 1112.4,467.6 1113.6,461.9 1114.8,475.8 1116.0,468.7 1117.2,469.6 1118.4,463.2 1119.6,470.9 1120.8,472.7 1122.0,471.1 1123.2,470.4 1124.4,462.2 1125.6,462.7 1126.8,471.8 1128.0,471.5 1129.2,471.6 1130.4,471.1 1131.6,469.1 1132.8,474.0 1134.0,470.3 1135.2,463.2 1136.4,471.5 1137.6,471.7 1138.8,475.4 1140.0,465.9 1141.2,466.5 1142.4,466.2 1143.6,469.2 1144.8,472.3 1146.0,470.0 1147.2,472.0 1148.4,471.9 1149.6,466.1 1150.8,470.8 1152.0,472.0 1153.2,470.4 1154.4,472.9 1155.6,473.4 1156.8,475.0 1158.0,475.6 1159.2,476.7 1160.4,481.5 1161.6,472.7 1162.8,481.2 1164.0,478.1 1165.2,482.0 1166.4,480.9 1167.6,481.5 1168.8,484.3 1170.0,483.4 1171.2,489.3 1172.4,489.8 1173.6,486.8 1174.8,480.3 1176.0,481.1 1177.2,486.8 1178.4,491.5 1179.6,491.0 1180.8,493.3 1182.0,495.3 1183.2,493.4 1184.4,496.6 1185.6,499.5 1186.8,492.2 1188.0,504.0 1189.2,499.1 1190.4,498.8 1191.6,503.1 1192.8,507.0 1194.0,500.6 1195.2,499.3 1196.4,509.3 1197.6,498.9 1198.8,501.8 1200.0,500.3 1201.2,501.9 1202.4,496.8 1203.6,503.0 1204.8,497.5 1206.0,498.1 1207.2,498.9 1208.4,494.8 1209.6,501.7 1210.8,501.5 1212.0,499.9 1213.2,499.5 1214.4,506.7 1215.6,499.7 1216.8,506.9 1218.0,502.4 1219.2,501.3 1220.4,499.6 1221.6,503.3 1222.8,500.6 1224.0,509.1 1225.2,504.4 1226.4,509.5 1227.6,504.9 1228.8,505.5 1230.0,504.0 1231.2,509.0 1232.4,502.3 1233.6,502.7 1234.8,498.0 1236.0,500.9 1237.2,500.6 1238.4,500.4 1239.6,502.4 1240.8,502.0 1242.0,497.5 1243.2,505.4 1244.4,503.8 1245.6,496.1 1246.8,495.3 1248.0,505.9 1249.2,506.0 1250.4,495.1 1251.6,503.2 1252.8,499.9 1254.0,506.5 1255.2,501.8 1256.4,498.4 1257.6,499.4 1258.8,495.0 1260.0,506.7 1261.2,497.9 1262.4,497.9 1263.6,500.6 1264.8,496.3 1266.0,497.3 1267.2,500.5 1268.4,499.9 1269.6,504.0 1270.8,500.7 1272.0,498.2 1273.2,505.7 1274.4,496.1 1275.6,498.6 1276.8,499.4 1278.0,500.4 1279.2,491.4 1280.4,502.6 1281.6,507.4 1282.8,499.0 1284.0,495.3 1285.2,497.1 1286.4,506.4 1287.6,499.0 1288.8,501.3 1290.0,497.7 1291.2,498.2 1292.4,495.6 1293.6,497.8 1294.8,500.3 1296.0,497.5 1297.2,493.4 1298.4,498.1 1299.6,493.0 1300.8,489.9 1302.0,490.4 1303.2,495.0 1304.4,487.6 1305.6,487.5 1306.8,492.7 1308.0,503.3 1309.2,498.1 1310.4,495.9 1311.6,495.6 1312.8,493.6 1314.0,490.6 1315.2,497.7 1316.4,499.3 1317.6,497.6 1318.8,492.0 1320.0,490.6 1321.2,499.1 1322.4,492.2 1323.6,500.2 1324.8,501.7 1326.0,499.4 1327.2,499.7 1328.4,491.9 1329.6,496.6 1330.8,498.9 1332.0,499.4 1333.2,499.6 1334.4,499.8 1335.6,498.8 1336.8,499.3 1338.0,494.4 1339.2,504.2 1340.4,501.8 1341.6,491.2 1342.8,502.3 1344.0,499.5 1345.2,504.7 1346.4,498.7 1347.6,494.2 1348.8,495.6 1350.0,500.6 1351.2,495.6 1352.4,495.4 1353.6,494.4 1354.8,493.6 1356.0,497.2 1357.2,497.4 1358.4,496.0 1359.6,504.1 1360.8,498.6 1362.0,501.2 1363.2,501.7 1364.4,507.3 1365.6,500.7 1366.8,503.5 1368.0,500.3 1369.2,507.0 1370.4,504.5 1371.6,508.3 1372.8,513.5 1374.0,504.0 1375.2,502.7 1376.4,510.3 1377.6,504.9 1378.8,505.2 1380.0,510.5 1381.2,515.8 1382.4,511.7 1383.6,516.6 1384.8,507.3 1386.0,516.5 1387.2,513.1 1388.4,507.3 1389.6,512.5 1390.8,515.4 1392.0,513.8 1393.2,510.7 1394.4,508.4 1395.6,509.5 1396.8,515.0 1398.0,508.9 1399.2,508.8 1400.4,505.8 1401.6,506.9 1402.8,511.2 1404.0,502.4 1405.2,508.3 1406.4,513.1 1407.6,511.7 1408.8,508.5 1410.0,508.2 1411.2,510.3 1412.4,510.2 1413.6,514.5 1414.8,510.0 1416.0,507.5 1417.2,509.2 1418.4,511.4 1419.6,510.3 1420.8,508.3 1422.0,512.9 1423.2,510.9 1424.4,510.8 1425.6,504.7 1426.8,509.3 1428.0,508.7 1429.2,503.6 1430.4,508.0 1431.6,503.7 1432.8,502.8 1434.0,510.7 1435.2,503.7 1436.4,503.0 1437.6,504.9 1438.8,506.8 1440.0,505.5 1441.2,502.7 1442.4,508.9 1443.6,510.3 1444.8,504.8 1446.0,513.6 1447.2,501.7 1448.4,515.3 1449.6,512.9 1450.8,507.3 1452.0,509.6 1453.2,513.3 1454.4,515.2 1455.6,504.6 1456.8,512.1 1458.0,511.5 1459.2,512.5 1460.4,511.1 1461.6,516.2 1462.8,507.3 1464.0,515.7 1465.2,516.5 1466.4,518.4 1467.6,517.9 1468.8,518.4 1470.0,519.6 1471.2,519.3 1472.4,516.7 1473.6,513.5 1474.8,520.9 1476.0,521.3 1477.2,520.2 1478.4,519.0 1479.6,514.5 1480.8,516.2 1482.0,515.4 1483.2,522.2 1484.4,527.0 1485.6,524.8 1486.8,525.5 1488.0,524.3 1489.2,527.5 1490.4,528.0 1491.6,521.0 1492.8,527.8 1494.0,526.5 1495.2,529.0 1496.4,527.9 1497.6,532.6 1498.8,530.7 1500.0,532.9 1501.2,527.2 1502.4,539.5 1503.6,536.6 1504.8,532.6 1506.0,529.9 1507.2,531.6 1508.4,530.0 1509.6,533.0 1510.8,535.4 1512.0,532.6 1513.2,539.7 1514.4,545.8 1515.6,537.6 1516.8,539.5 1518.0,537.1 1519.2,539.7 1520.4,543.1 1521.6,542.6 1522.8,540.3 1524.0,549.0 1525.2,542.6 1526.4,546.7 1527.6,544.1 1528.8,543.7 1530.0,545.3 1531.2,544.7 1532.4,540.8 1533.6,545.4 1534.8,547.9 1536.0,546.3 1537.2,548.1 1538.4,544.4 1539.6,546.6 1540.8,543.7 1542.0,550.5 1543.2,543.7 1544.4,545.4 1545.6,547.1 1546.8,544.3 1548.0,547.1 1549.2,550.4 1550.4,545.8 1551.6,543.2 1552.8,546.4 1554.0,543.9 1555.2,549.6 1556.4,550.7 1557.6,547.4 1558.8,554.7 1560.0,543.5 1561.2,547.8 1562.4,546.5 1563.6,548.8 1564.8,554.3 1566.0,547.9 1567.2,549.2 1568.4,548.9 1569.6,545.2 1570.8,549.5 1572.0,556.4 1573.2,552.9 1574.4,546.9 1575.6,557.0 1576.8,555.1 1578.0,553.6 1579.2,561.7 1580.4,557.3 1581.6,550.1 1582.8,551.3 1584.0,561.0 1585.2,545.5 1586.4,553.7 1587.6,551.9 1588.8,553.9 1590.0,554.8 1591.2,551.8 1592.4,551.1 1593.6,554.0 1594.8,551.1 1596.0,552.2 1597.2,554.9 1598.4,550.6 1599.6,548.2 1600.8,553.0 1602.0,550.1 1603.2,553.7 1604.4,552.3 1605.6,553.8 1606.8,547.1 1608.0,552.7 1609.2,555.1 1610.4,554.3 1611.6,551.3 1612.8,553.4 1614.0,555.5 1615.2,551.6 1616.4,547.1 1617.6,550.8 1618.8,550.7 1620.0,555.0 1621.2,555.3 1622.4,553.5 1623.6,553.4 1624.8,550.3 1626.0,552.4 1627.2,553.8 1628.4,554.8 1629.6,548.7 1630.8,544.4 1632.0,555.3 1633.2,549.3 1634.4,554.8 1635.6,554.9 1636.8,557.5 1638.0,552.6 1639.2,552.9 1640.4,552.7 1641.6,552.8 1642.8,558.8 1644.0,554.2 1645.2,557.3 1646.4,561.9 1647.6,554.0 1648.8,556.6 1650.0,552.6 1651.2,556.1 1652.4,557.6 1653.6,560.1 1654.8,549.5 1656.0,555.3 1657.2,558.1 1658.4,558.9 1659.6,562.3 1660.8,557.5 1662.0,559.9 1663.2,558.2 1664.4,563.1 1665.6,558.9 1666.8,566.9 1668.0,562.8 1669.2,565.4 1670.4,555.9 1671.6,557.0 1672.8,565.2 1674.0,558.1 1675.2,559.4 1676.4,558.2 1677.6,561.2 1678.8,558.0 1680.0,561.9 1681.2,552.9 1682.4,569.2 1683.6,553.6 1684.8,561.5 1686.0,558.9 1687.2,557.7 1688.4,559.8 1689.6,557.0 1690.8,571.8 1692.0,566.0 1693.2,569.6 1694.4,566.3 1695.6,566.0 1696.8,565.9 1698.0,566.0 1699.2,568.6 1700.4,566.6 1701.6,566.6 1702.8,566.7 1704.0,563.1 1705.2,569.2 1706.4,566.2 1707.6,572.8 1708.8,570.0 1710.0,568.2 1711.2,571.8"/>
<polyline fill="none" stroke="#9900ff" stroke-width="7.0" stroke-linejoin="round" points="177.5,342 178.0,413.0 179.2,429.7 180.4,438.4 181.6,443.4 182.8,447.2 184.0,449.7 185.2,452.7 186.4,452.4 187.6,450.6 188.8,455.8 190.0,454.9 191.2,463.2 192.4,467.0 193.6,454.4 194.8,464.2 196.0,464.4 197.2,469.2 198.4,466.5 199.6,466.3 200.8,468.1 202.0,466.6 203.2,469.3 204.4,471.6 205.6,469.1 206.8,475.9 208.0,473.2 209.2,479.2 210.4,468.8 211.6,472.3 212.8,478.7 214.0,473.7 215.2,476.5 216.4,481.1 217.6,470.6 218.8,471.6 220.0,477.7 221.2,478.8 222.4,476.4 223.6,473.5 224.8,474.6 226.0,475.7 227.2,475.2 228.4,475.4 229.6,475.3 230.8,479.8 232.0,473.4 233.2,477.6 234.4,478.0 235.6,482.0 236.8,469.6 238.0,478.0 239.2,478.1 240.4,477.1 241.6,471.2 242.8,470.4 244.0,474.8 245.2,480.5 246.4,474.8 247.6,474.4 248.8,477.0 250.0,477.9 251.2,479.4 252.4,480.6 253.6,476.2 254.8,482.8 256.0,470.0 257.2,477.2 258.4,475.4 259.6,476.8 260.8,477.2 262.0,477.3 263.2,476.5 264.4,474.3 265.6,474.0 266.8,473.9 268.0,477.6 269.2,475.0 270.4,475.8 271.6,474.9 272.8,474.2 274.0,476.2 275.2,474.4 276.4,472.0 277.6,480.7 278.8,469.7 280.0,467.6 281.2,471.2 282.4,469.7 283.6,466.2 284.8,464.0 286.0,467.8 287.2,465.2 288.4,461.6 289.6,465.2 290.8,465.4 292.0,456.7 293.2,464.0 294.4,458.9 295.6,466.5 296.8,466.1 298.0,462.2 299.2,459.5 300.4,469.1 301.6,464.1 302.8,460.3 304.0,459.8 305.2,467.3 306.4,464.3 307.6,462.2 308.8,464.5 310.0,462.7 311.2,466.5 312.4,463.9 313.6,471.2 314.8,463.6 316.0,467.8 317.2,461.0 318.4,462.8 319.6,462.5 320.8,465.0 322.0,456.6 323.2,464.9 324.4,464.2 325.6,460.7 326.8,453.6 328.0,463.0 329.2,461.8 330.4,465.5 331.6,460.4 332.8,467.3 334.0,457.5 335.2,457.1 336.4,459.3 337.6,458.4 338.8,457.9 340.0,460.0 341.2,456.5 342.4,455.5 343.6,456.9 344.8,453.9 346.0,450.9 347.2,454.8 348.4,449.5 349.6,452.6 350.8,451.0 352.0,449.7 353.2,447.3 354.4,454.0 355.6,444.4 356.8,451.8 358.0,450.2 359.2,448.3 360.4,449.3 361.6,446.3 362.8,451.2 364.0,444.3 365.2,447.4 366.4,446.3 367.6,447.4 368.8,445.7 370.0,452.1 371.2,448.6 372.4,449.2 373.6,436.4 374.8,440.7 376.0,443.5 377.2,445.1 378.4,442.0 379.6,443.0 380.8,435.5 382.0,442.8 383.2,442.8 384.4,440.4 385.6,436.9 386.8,439.6 388.0,441.5 389.2,439.8 390.4,442.9 391.6,438.8 392.8,434.9 394.0,438.0 395.2,430.6 396.4,438.4 397.6,433.5 398.8,440.3 400.0,434.6 401.2,433.5 402.4,429.3 403.6,434.8 404.8,436.2 406.0,431.6 407.2,430.5 408.4,430.0 409.6,429.5 410.8,428.2 412.0,422.2 413.2,426.0 414.4,429.0 415.6,415.7 416.8,419.9 418.0,424.1 419.2,414.2 420.4,418.9 421.6,423.4 422.8,418.2 424.0,422.9 425.2,416.1 426.4,416.2 427.6,411.9 428.8,418.3 430.0,420.3 431.2,410.6 432.4,410.9 433.6,412.3 434.8,404.7 436.0,401.0 437.2,406.3 438.4,405.6 439.6,405.5 440.8,404.3 442.0,401.6 443.2,401.2 444.4,398.5 445.6,396.7 446.8,400.4 448.0,393.3 449.2,395.5 450.4,390.6 451.6,396.2 452.8,397.2 454.0,391.2 455.2,398.4 456.4,403.4 457.6,398.8 458.8,400.8 460.0,401.7 461.2,386.1 462.4,390.2 463.6,382.3 464.8,384.9 466.0,377.3 467.2,376.6 468.4,381.9 469.6,377.2 470.8,382.1 472.0,378.8 473.2,386.3 474.4,378.4 475.6,383.7 476.8,383.0 478.0,388.4 479.2,385.7 480.4,384.0 481.6,388.9 482.8,387.8 484.0,390.8 485.2,389.8 486.4,379.1 487.6,378.2 488.8,390.5 490.0,383.2 491.2,382.1 492.4,380.9 493.6,379.8 494.8,383.2 496.0,378.2 497.2,380.5 498.4,378.7 499.6,376.4 500.8,376.0 502.0,370.4 503.2,371.7 504.4,370.5 505.6,361.2 506.8,365.4 508.0,372.1 509.2,366.1 510.4,371.6 511.6,361.4 512.8,363.2 514.0,360.6 515.2,359.4 516.4,353.4 517.6,354.1 518.8,349.7 520.0,354.0 521.2,352.1 522.4,351.4 523.6,354.0 524.8,355.9 526.0,358.1 527.2,358.0 528.4,359.2 529.6,359.8 530.8,359.2 532.0,359.6 533.2,362.1 534.4,364.5 535.6,368.5 536.8,367.1 538.0,365.1 539.2,368.5 540.4,358.2 541.6,369.5 542.8,365.1 544.0,369.7 545.2,372.0 546.4,367.9 547.6,368.8 548.8,377.6 550.0,367.9 551.2,372.0 552.4,369.6 553.6,369.1 554.8,372.8 556.0,370.5 557.2,372.5 558.4,367.9 559.6,372.2 560.8,369.8 562.0,367.2 563.2,368.7 564.4,370.3 565.6,366.6 566.8,361.7 568.0,363.7 569.2,361.9 570.4,363.3 571.6,358.5 572.8,359.0 574.0,354.8 575.2,357.5 576.4,360.3 577.6,360.6 578.8,362.3 580.0,359.4 581.2,357.2 582.4,358.8 583.6,361.5 584.8,358.9 586.0,357.2 587.2,362.4 588.4,365.0 589.6,353.7 590.8,352.1 592.0,357.1 593.2,358.7 594.4,363.6 595.6,357.7 596.8,357.7 598.0,356.7 599.2,361.1 600.4,357.6 601.6,352.3 602.8,355.4 604.0,349.8 605.2,358.9 606.4,349.4 607.6,349.6 608.8,347.6 610.0,341.6 611.2,343.1 612.4,343.9 613.6,335.6 614.8,332.1 616.0,332.0 617.2,335.7 618.4,332.4 619.6,331.5 620.8,327.1 622.0,331.6 623.2,325.7 624.4,325.4 625.6,327.9 626.8,327.1 628.0,321.6 629.2,328.1 630.4,321.8 631.6,320.9 632.8,318.7 634.0,314.8 635.2,313.8 636.4,303.3 637.6,310.1 638.8,308.6 640.0,307.4 641.2,302.0 642.4,301.6 643.6,307.9 644.8,294.9 646.0,294.7 647.2,288.2 648.4,287.1 649.6,287.2 650.8,282.8 652.0,268.6 653.2,272.7 654.4,269.0 655.6,270.5 656.8,254.4 658.0,257.5 659.2,261.7 660.4,242.2 661.6,246.3 662.8,242.0 664.0,230.9 665.2,228.5 666.4,225.3 667.6,215.0 668.8,212.4 670.0,197.5 671.2,181.4 672.4,184.5 673.6,173.8 674.8,169.5 676.0,165.6 677.2,160.2 678.4,159.2 679.6,163.8 680.8,155.9 682.0,159.8 683.2,161.0 684.4,160.0 685.6,171.7 686.8,170.9 688.0,180.6 689.2,181.1 690.4,187.3 691.6,194.0 692.8,196.4 694.0,198.6 695.2,204.4 696.4,206.0 697.6,216.2 698.8,215.0 700.0,222.0 701.2,225.8 702.4,224.6 703.6,235.4 704.8,242.5 706.0,247.7 707.2,259.7 708.4,252.5 709.6,259.1 710.8,258.7 712.0,257.7 713.2,259.8 714.4,256.0 715.6,260.4 716.8,256.1 718.0,260.4 719.2,262.9 720.4,259.2 721.6,253.7 722.8,257.5 724.0,259.7 725.2,256.9 726.4,259.4 727.6,254.4 728.8,245.2 730.0,239.4 731.2,238.9 732.4,228.6 733.6,228.5 734.8,207.8 736.0,204.8 737.2,202.2 738.4,195.2 739.6,192.1 740.8,185.7 742.0,177.4 743.2,170.7 744.4,162.0 745.6,159.8 746.8,149.5 748.0,146.0 749.2,141.8 750.4,127.0 751.6,119.9 752.8,113.3 754.0,108.1 755.2,94.2 756.4,98.9 757.6,99.2 758.8,90.3 760.0,93.0 761.2,91.1 762.4,88.4 763.6,100.3 764.8,105.4 766.0,113.1 767.2,103.8 768.4,109.1 769.6,108.2 770.8,115.4 772.0,107.8 773.2,111.1 774.4,110.1 775.6,115.3 776.8,125.6 778.0,129.6 779.2,138.8 780.4,128.1 781.6,127.2 782.8,117.7 784.0,119.5 785.2,112.5 786.4,122.3 787.6,114.9 788.8,118.1 790.0,115.4 791.2,119.6 792.4,117.7 793.6,131.0 794.8,144.8 796.0,135.0 797.2,129.5 798.4,127.8 799.6,110.3 800.8,122.1 802.0,122.7 803.2,122.4 804.4,124.8 805.6,121.5 806.8,123.4 808.0,127.6 809.2,128.6 810.4,130.7 811.6,133.4 812.8,149.0 814.0,157.4 815.2,173.4 816.4,179.3 817.6,188.5 818.8,191.5 820.0,196.4 821.2,207.3 822.4,205.3 823.6,209.6 824.8,213.6 826.0,216.1 827.2,217.5 828.4,220.9 829.6,220.0 830.8,224.7 832.0,227.5 833.2,231.3 834.4,234.4 835.6,243.0 836.8,250.6 838.0,256.2 839.2,255.0 840.4,262.6 841.6,254.7 842.8,264.6 844.0,263.5 845.2,264.1 846.4,263.5 847.6,269.4 848.8,271.0 850.0,273.6 851.2,277.5 852.4,275.3 853.6,283.5 854.8,286.5 856.0,275.9 857.2,281.7 858.4,283.5 859.6,276.3 860.8,282.3 862.0,288.8 863.2,285.6 864.4,288.7 865.6,293.4 866.8,285.5 868.0,276.4 869.2,280.6 870.4,284.6 871.6,285.2 872.8,274.2 874.0,282.1 875.2,280.4 876.4,275.5 877.6,273.3 878.8,284.1 880.0,283.5 881.2,274.1 882.4,274.4 883.6,272.3 884.8,276.0 886.0,278.2 887.2,282.2 888.4,281.9 889.6,284.6 890.8,286.2 892.0,286.8 893.2,288.7 894.4,282.3 895.6,293.1 896.8,295.5 898.0,304.0 899.2,297.7 900.4,301.1 901.6,301.2 902.8,300.7 904.0,300.1 905.2,299.4 906.4,302.5 907.6,304.7 908.8,299.5 910.0,298.3 911.2,309.1 912.4,311.7 913.6,306.4 914.8,307.8 916.0,314.3 917.2,308.1 918.4,307.8 919.6,301.2 920.8,306.0 922.0,306.6 923.2,302.5 924.4,303.0 925.6,296.5 926.8,302.3 928.0,302.4 929.2,292.1 930.4,299.2 931.6,293.5 932.8,305.7 934.0,296.5 935.2,296.2 936.4,295.3 937.6,301.4 938.8,298.2 940.0,300.5 941.2,300.8 942.4,301.9 943.6,306.1 944.8,307.9 946.0,306.8 947.2,307.8 948.4,308.7 949.6,309.4 950.8,301.8 952.0,304.7 953.2,307.6 954.4,309.3 955.6,294.2 956.8,292.7 958.0,304.9 959.2,301.2 960.4,296.4 961.6,301.1 962.8,291.6 964.0,290.3 965.2,295.3 966.4,285.7 967.6,292.4 968.8,278.4 970.0,280.2 971.2,277.8 972.4,271.5 973.6,269.6 974.8,268.5 976.0,265.9 977.2,261.6 978.4,260.8 979.6,262.9 980.8,256.9 982.0,247.2 983.2,247.1 984.4,251.8 985.6,240.3 986.8,240.9 988.0,228.7 989.2,231.9 990.4,223.9 991.6,229.0 992.8,219.9 994.0,216.7 995.2,209.5 996.4,205.9 997.6,208.9 998.8,205.4 1000.0,201.1 1001.2,206.8 1002.4,197.3 1003.6,198.9 1004.8,195.5 1006.0,197.6 1007.2,203.5 1008.4,197.0 1009.6,197.8 1010.8,197.8 1012.0,200.4 1013.2,203.4 1014.4,204.7 1015.6,211.2 1016.8,211.5 1018.0,220.3 1019.2,215.2 1020.4,217.1 1021.6,216.1 1022.8,215.3 1024.0,216.6 1025.2,216.5 1026.4,213.9 1027.6,221.9 1028.8,221.3 1030.0,220.0 1031.2,220.1 1032.4,226.7 1033.6,231.4 1034.8,231.9 1036.0,235.3 1037.2,238.4 1038.4,240.9 1039.6,243.0 1040.8,244.8 1042.0,246.9 1043.2,251.4 1044.4,254.1 1045.6,253.2 1046.8,258.7 1048.0,258.6 1049.2,260.9 1050.4,269.4 1051.6,267.5 1052.8,271.2 1054.0,270.9 1055.2,275.1 1056.4,278.9 1057.6,282.3 1058.8,285.8 1060.0,289.7 1061.2,290.3 1062.4,292.0 1063.6,293.6 1064.8,295.6 1066.0,300.8 1067.2,300.8 1068.4,300.3 1069.6,303.7 1070.8,306.0 1072.0,313.2 1073.2,320.7 1074.4,317.8 1075.6,318.9 1076.8,319.9 1078.0,320.4 1079.2,324.6 1080.4,325.4 1081.6,325.9 1082.8,323.9 1084.0,328.5 1085.2,340.8 1086.4,332.9 1087.6,336.8 1088.8,336.2 1090.0,338.1 1091.2,337.1 1092.4,340.9 1093.6,336.2 1094.8,343.3 1096.0,347.2 1097.2,349.1 1098.4,346.8 1099.6,344.0 1100.8,352.3 1102.0,350.0 1103.2,352.2 1104.4,354.6 1105.6,355.2 1106.8,359.2 1108.0,358.1 1109.2,363.4 1110.4,355.0 1111.6,357.7 1112.8,357.6 1114.0,358.3 1115.2,354.6 1116.4,351.5 1117.6,348.9 1118.8,356.7 1120.0,357.6 1121.2,350.1 1122.4,358.5 1123.6,359.4 1124.8,354.0 1126.0,364.5 1127.2,356.4 1128.4,358.8 1129.6,361.0 1130.8,363.4 1132.0,361.8 1133.2,362.5 1134.4,361.9 1135.6,359.6 1136.8,359.6 1138.0,364.3 1139.2,358.2 1140.4,363.2 1141.6,365.5 1142.8,359.7 1144.0,356.7 1145.2,363.9 1146.4,355.8 1147.6,364.2 1148.8,361.7 1150.0,360.7 1151.2,364.1 1152.4,360.1 1153.6,358.2 1154.8,354.4 1156.0,362.2 1157.2,363.2 1158.4,365.9 1159.6,361.8 1160.8,365.1 1162.0,366.5 1163.2,371.5 1164.4,366.9 1165.6,369.8 1166.8,365.5 1168.0,369.2 1169.2,370.2 1170.4,372.8 1171.6,376.5 1172.8,375.7 1174.0,375.5 1175.2,376.7 1176.4,383.9 1177.6,379.3 1178.8,377.6 1180.0,377.3 1181.2,384.2 1182.4,377.5 1183.6,381.2 1184.8,389.3 1186.0,381.5 1187.2,386.4 1188.4,386.2 1189.6,382.5 1190.8,388.9 1192.0,391.1 1193.2,393.0 1194.4,387.0 1195.6,389.2 1196.8,385.5 1198.0,395.6 1199.2,387.1 1200.4,397.0 1201.6,386.7 1202.8,392.7 1204.0,392.6 1205.2,393.5 1206.4,393.2 1207.6,396.1 1208.8,395.5 1210.0,394.8 1211.2,398.1 1212.4,386.3 1213.6,393.9 1214.8,393.1 1216.0,401.0 1217.2,389.4 1218.4,391.1 1219.6,393.0 1220.8,387.5 1222.0,391.1 1223.2,390.2 1224.4,393.3 1225.6,390.8 1226.8,382.3 1228.0,390.6 1229.2,391.2 1230.4,394.4 1231.6,390.7 1232.8,388.7 1234.0,384.3 1235.2,391.9 1236.4,383.0 1237.6,390.6 1238.8,386.1 1240.0,388.3 1241.2,384.8 1242.4,387.9 1243.6,385.5 1244.8,384.2 1246.0,383.7 1247.2,389.5 1248.4,387.6 1249.6,383.8 1250.8,381.7 1252.0,384.0 1253.2,385.9 1254.4,386.2 1255.6,387.0 1256.8,389.3 1258.0,386.2 1259.2,391.8 1260.4,388.3 1261.6,395.4 1262.8,390.2 1264.0,390.3 1265.2,395.4 1266.4,388.9 1267.6,394.6 1268.8,392.2 1270.0,392.6 1271.2,390.5 1272.4,389.8 1273.6,394.9 1274.8,390.4 1276.0,387.2 1277.2,385.0 1278.4,379.9 1279.6,388.2 1280.8,387.1 1282.0,389.7 1283.2,387.0 1284.4,391.9 1285.6,395.1 1286.8,391.6 1288.0,390.6 1289.2,391.6 1290.4,389.0 1291.6,389.3 1292.8,387.1 1294.0,394.8 1295.2,390.1 1296.4,398.0 1297.6,390.2 1298.8,387.8 1300.0,386.0 1301.2,383.8 1302.4,377.6 1303.6,388.6 1304.8,380.7 1306.0,381.2 1307.2,380.0 1308.4,378.8 1309.6,376.4 1310.8,378.1 1312.0,378.4 1313.2,376.1 1314.4,378.7 1315.6,373.7 1316.8,379.2 1318.0,380.3 1319.2,386.2 1320.4,380.3 1321.6,385.0 1322.8,376.9 1324.0,382.6 1325.2,380.9 1326.4,384.0 1327.6,374.8 1328.8,380.6 1330.0,377.9 1331.2,378.4 1332.4,379.2 1333.6,376.9 1334.8,377.9 1336.0,383.9 1337.2,382.9 1338.4,386.5 1339.6,375.0 1340.8,383.5 1342.0,386.3 1343.2,384.6 1344.4,382.0 1345.6,376.5 1346.8,386.6 1348.0,388.0 1349.2,379.9 1350.4,386.0 1351.6,385.3 1352.8,387.1 1354.0,389.9 1355.2,388.6 1356.4,387.9 1357.6,390.6 1358.8,390.2 1360.0,394.0 1361.2,387.6 1362.4,390.8 1363.6,392.3 1364.8,390.9 1366.0,393.0 1367.2,387.4 1368.4,388.7 1369.6,393.4 1370.8,394.1 1372.0,402.2 1373.2,395.6 1374.4,396.1 1375.6,395.8 1376.8,403.4 1378.0,399.2 1379.2,404.0 1380.4,398.9 1381.6,397.0 1382.8,399.2 1384.0,397.4 1385.2,395.8 1386.4,394.1 1387.6,396.6 1388.8,391.3 1390.0,397.5 1391.2,394.1 1392.4,402.7 1393.6,393.4 1394.8,397.4 1396.0,395.5 1397.2,390.9 1398.4,386.1 1399.6,391.7 1400.8,395.0 1402.0,393.2 1403.2,391.8 1404.4,391.4 1405.6,391.8 1406.8,383.1 1408.0,395.5 1409.2,391.3 1410.4,390.4 1411.6,389.7 1412.8,402.0 1414.0,394.1 1415.2,396.1 1416.4,393.3 1417.6,390.0 1418.8,396.2 1420.0,397.4 1421.2,400.6 1422.4,391.7 1423.6,405.9 1424.8,401.9 1426.0,397.9 1427.2,407.3 1428.4,398.2 1429.6,403.5 1430.8,403.8 1432.0,401.2 1433.2,396.2 1434.4,396.8 1435.6,392.3 1436.8,396.1 1438.0,394.8 1439.2,397.7 1440.4,396.1 1441.6,398.0 1442.8,395.9 1444.0,396.4 1445.2,395.4 1446.4,397.4 1447.6,393.3 1448.8,401.3 1450.0,410.9 1451.2,407.0 1452.4,410.4 1453.6,404.7 1454.8,411.1 1456.0,407.6 1457.2,403.7 1458.4,406.8 1459.6,406.8 1460.8,403.6 1462.0,404.5 1463.2,409.8 1464.4,409.1 1465.6,406.8 1466.8,401.6 1468.0,409.6 1469.2,413.6 1470.4,418.0 1471.6,410.9 1472.8,414.7 1474.0,414.6 1475.2,409.5 1476.4,419.2 1477.6,412.3 1478.8,412.9 1480.0,420.0 1481.2,411.4 1482.4,420.9 1483.6,414.2 1484.8,416.5 1486.0,416.5 1487.2,411.9 1488.4,411.5 1489.6,413.2 1490.8,414.8 1492.0,412.0 1493.2,412.8 1494.4,415.2 1495.6,420.7 1496.8,412.1 1498.0,418.4 1499.2,418.4 1500.4,420.3 1501.6,410.2 1502.8,417.8 1504.0,421.3 1505.2,420.2 1506.4,419.8 1507.6,426.2 1508.8,415.3 1510.0,418.9 1511.2,418.1 1512.4,424.8 1513.6,425.3 1514.8,428.0 1516.0,429.0 1517.2,427.4 1518.4,422.3 1519.6,426.8 1520.8,427.0 1522.0,424.9 1523.2,428.2 1524.4,430.3 1525.6,428.6 1526.8,434.6 1528.0,434.1 1529.2,430.7 1530.4,429.9 1531.6,427.9 1532.8,432.6 1534.0,433.6 1535.2,431.7 1536.4,433.9 1537.6,435.3 1538.8,434.4 1540.0,436.2 1541.2,432.5 1542.4,431.6 1543.6,440.4 1544.8,437.3 1546.0,436.9 1547.2,435.8 1548.4,427.8 1549.6,431.8 1550.8,430.0 1552.0,424.8 1553.2,432.5 1554.4,434.1 1555.6,431.4 1556.8,432.7 1558.0,432.0 1559.2,433.7 1560.4,432.3 1561.6,433.1 1562.8,436.4 1564.0,441.1 1565.2,430.4 1566.4,437.3 1567.6,436.6 1568.8,433.7 1570.0,439.7 1571.2,438.4 1572.4,437.5 1573.6,437.9 1574.8,433.7 1576.0,440.4 1577.2,438.8 1578.4,442.6 1579.6,436.5 1580.8,438.0 1582.0,432.6 1583.2,434.7 1584.4,435.6 1585.6,435.9 1586.8,436.3 1588.0,436.4 1589.2,434.8 1590.4,436.7 1591.6,443.2 1592.8,439.3 1594.0,440.3 1595.2,439.5 1596.4,436.8 1597.6,444.5 1598.8,443.4 1600.0,440.9 1601.2,448.1 1602.4,441.0 1603.6,432.8 1604.8,440.1 1606.0,442.5 1607.2,442.0 1608.4,439.6 1609.6,438.9 1610.8,439.6 1612.0,446.4 1613.2,441.5 1614.4,444.7 1615.6,439.6 1616.8,441.9 1618.0,441.4 1619.2,443.0 1620.4,441.4 1621.6,450.5 1622.8,441.9 1624.0,441.1 1625.2,439.3 1626.4,444.1 1627.6,440.2 1628.8,432.1 1630.0,439.7 1631.2,437.0 1632.4,436.8 1633.6,436.0 1634.8,435.3 1636.0,439.3 1637.2,437.4 1638.4,429.5 1639.6,425.4 1640.8,433.6 1642.0,430.5 1643.2,433.4 1644.4,436.8 1645.6,436.4 1646.8,435.0 1648.0,437.9 1649.2,441.2 1650.4,439.3 1651.6,438.5 1652.8,448.1 1654.0,439.6 1655.2,440.9 1656.4,443.1 1657.6,437.0 1658.8,446.0 1660.0,442.2 1661.2,448.3 1662.4,441.7 1663.6,451.5 1664.8,447.1 1666.0,445.7 1667.2,442.7 1668.4,446.9 1669.6,446.6 1670.8,450.7 1672.0,447.1 1673.2,441.8 1674.4,449.7 1675.6,449.1 1676.8,449.1 1678.0,446.6 1679.2,449.5 1680.4,452.7 1681.6,451.1 1682.8,452.5 1684.0,452.2 1685.2,449.7 1686.4,453.4 1687.6,460.1 1688.8,452.4 1690.0,451.6 1691.2,444.6 1692.4,444.6 1693.6,448.1 1694.8,451.7 1696.0,453.0 1697.2,452.8 1698.4,455.9 1699.6,451.3 1700.8,453.4 1702.0,451.6 1703.2,451.2 1704.4,449.0 1705.6,456.8 1706.8,452.5 1708.0,446.9 1709.2,459.1 1710.4,454.6 1711.6,452.3"/>
<text x="1472" y="395.5" class="l" textLength="226" lengthAdjust="spacingAndGlyphs">Kokei 14</text>
<text x="1537" y="534" class="l" textLength="143" lengthAdjust="spacingAndGlyphs">SY19</text>
<text x="1549" y="646.6" class="l" textLength="112" lengthAdjust="spacingAndGlyphs">SY4</text>
<text x="1521" y="763.8" class="l" textLength="173" lengthAdjust="spacingAndGlyphs">SY175</text>
<text x="1521.3" y="891.8" class="l" textLength="172.5" lengthAdjust="spacingAndGlyphs">SY148</text>
<text x="1551.5" y="1007.5" class="l" textLength="112" lengthAdjust="spacingAndGlyphs">SY6</text>
<text x="1521.3" y="1115.8" class="l" textLength="170" lengthAdjust="spacingAndGlyphs">SY192</text>
<text x="254.6" y="1314" text-anchor="middle" class="t">5</text>
<text x="464.8" y="1314" text-anchor="middle" class="t">10</text>
<text x="672.9" y="1314" text-anchor="middle" class="t">15</text>
<text x="878.1" y="1314" text-anchor="middle" class="t">20</text>
<text x="1089.2" y="1314" text-anchor="middle" class="t">25</text>
<text x="1295.8" y="1314" text-anchor="middle" class="t">30</text>
<text x="1504.5" y="1314" text-anchor="middle" class="t">35</text>
<text x="1713.2" y="1314" text-anchor="middle" class="t">40</text>
<text x="880.5" y="1402" text-anchor="middle" class="t" textLength="815" lengthAdjust="spacingAndGlyphs">Diffraction angle 2θ <tspan font-weight="normal">(</tspan><tspan dy="-32" font-size="50">o</tspan><tspan dy="32" font-weight="normal">)</tspan></text>
<text transform="translate(128,641.5) rotate(-90)" text-anchor="middle" class="t" textLength="621" lengthAdjust="spacingAndGlyphs">Relative intensity</text>
</svg>
</body></html>
